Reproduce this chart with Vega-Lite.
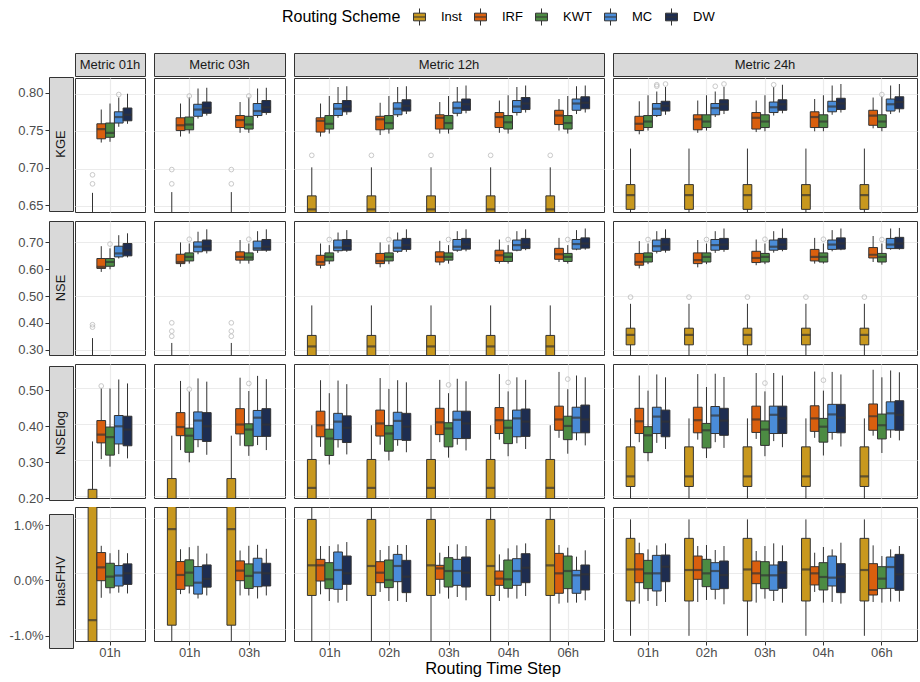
{
"$schema": "https://vega.github.io/schema/vega-lite/v6.json",
"background": "white",
"padding": {"left": 8, "top": 7, "right": 0, "bottom": 0},
"config": {"font": "Liberation Sans", "view": {"stroke": "#333333"}, "title": {"font": "Liberation Sans"}},
"title": {"text": "Routing Time Step", "orient": "bottom", "anchor": "middle", "fontSize": 16.5, "fontWeight": "normal", "color": "#000000", "dx": 30, "offset": 1},
"datasets": {"B": [
{"c":"01h","r":"KGE","t":"01h","s":"Inst","lo":0.55,"q1":0.59,"md":0.61,"q3":0.63,"hi":0.668},
{"c":"01h","r":"KGE","t":"01h","s":"IRF","lo":0.735,"q1":0.74,"md":0.753,"q3":0.76,"hi":0.779},
{"c":"01h","r":"KGE","t":"01h","s":"KWT","lo":0.736,"q1":0.742,"md":0.748,"q3":0.761,"hi":0.787},
{"c":"01h","r":"KGE","t":"01h","s":"MC","lo":0.756,"q1":0.761,"md":0.769,"q3":0.776,"hi":0.795},
{"c":"01h","r":"KGE","t":"01h","s":"DW","lo":0.76,"q1":0.764,"md":0.772,"q3":0.781,"hi":0.8},
{"c":"01h","r":"KGE","t":"01h","s":"Inst","v":0.692},
{"c":"01h","r":"KGE","t":"01h","s":"Inst","v":0.68},
{"c":"01h","r":"KGE","t":"01h","s":"MC","v":0.799},
{"c":"03h","r":"KGE","t":"01h","s":"Inst","lo":0.55,"q1":0.59,"md":0.61,"q3":0.63,"hi":0.669},
{"c":"03h","r":"KGE","t":"01h","s":"IRF","lo":0.743,"q1":0.751,"md":0.758,"q3":0.768,"hi":0.787},
{"c":"03h","r":"KGE","t":"01h","s":"KWT","lo":0.747,"q1":0.752,"md":0.759,"q3":0.769,"hi":0.795},
{"c":"03h","r":"KGE","t":"01h","s":"MC","lo":0.767,"q1":0.77,"md":0.779,"q3":0.786,"hi":0.807},
{"c":"03h","r":"KGE","t":"01h","s":"DW","lo":0.771,"q1":0.774,"md":0.781,"q3":0.789,"hi":0.808},
{"c":"03h","r":"KGE","t":"01h","s":"Inst","v":0.699},
{"c":"03h","r":"KGE","t":"01h","s":"Inst","v":0.68},
{"c":"03h","r":"KGE","t":"01h","s":"KWT","v":0.797},
{"c":"03h","r":"KGE","t":"03h","s":"Inst","lo":0.55,"q1":0.59,"md":0.61,"q3":0.63,"hi":0.669},
{"c":"03h","r":"KGE","t":"03h","s":"IRF","lo":0.748,"q1":0.755,"md":0.765,"q3":0.771,"hi":0.789},
{"c":"03h","r":"KGE","t":"03h","s":"KWT","lo":0.748,"q1":0.753,"md":0.759,"q3":0.77,"hi":0.795},
{"c":"03h","r":"KGE","t":"03h","s":"MC","lo":0.768,"q1":0.771,"md":0.777,"q3":0.787,"hi":0.807},
{"c":"03h","r":"KGE","t":"03h","s":"DW","lo":0.772,"q1":0.775,"md":0.782,"q3":0.791,"hi":0.808},
{"c":"03h","r":"KGE","t":"03h","s":"Inst","v":0.699},
{"c":"03h","r":"KGE","t":"03h","s":"Inst","v":0.68},
{"c":"03h","r":"KGE","t":"03h","s":"KWT","v":0.797},
{"c":"12h","r":"KGE","t":"01h","s":"Inst","lo":0.58,"q1":0.625,"md":0.646,"q3":0.664,"hi":0.702},
{"c":"12h","r":"KGE","t":"01h","s":"IRF","lo":0.743,"q1":0.749,"md":0.764,"q3":0.768,"hi":0.787},
{"c":"12h","r":"KGE","t":"01h","s":"KWT","lo":0.747,"q1":0.753,"md":0.76,"q3":0.771,"hi":0.797},
{"c":"12h","r":"KGE","t":"01h","s":"MC","lo":0.768,"q1":0.771,"md":0.78,"q3":0.787,"hi":0.809},
{"c":"12h","r":"KGE","t":"01h","s":"DW","lo":0.772,"q1":0.776,"md":0.783,"q3":0.791,"hi":0.81},
{"c":"12h","r":"KGE","t":"01h","s":"Inst","v":0.718},
{"c":"12h","r":"KGE","t":"02h","s":"Inst","lo":0.58,"q1":0.625,"md":0.646,"q3":0.664,"hi":0.702},
{"c":"12h","r":"KGE","t":"02h","s":"IRF","lo":0.745,"q1":0.752,"md":0.766,"q3":0.77,"hi":0.788},
{"c":"12h","r":"KGE","t":"02h","s":"KWT","lo":0.747,"q1":0.753,"md":0.761,"q3":0.771,"hi":0.797},
{"c":"12h","r":"KGE","t":"02h","s":"MC","lo":0.769,"q1":0.772,"md":0.78,"q3":0.788,"hi":0.809},
{"c":"12h","r":"KGE","t":"02h","s":"DW","lo":0.773,"q1":0.777,"md":0.784,"q3":0.792,"hi":0.81},
{"c":"12h","r":"KGE","t":"02h","s":"Inst","v":0.718},
{"c":"12h","r":"KGE","t":"03h","s":"Inst","lo":0.58,"q1":0.625,"md":0.646,"q3":0.664,"hi":0.702},
{"c":"12h","r":"KGE","t":"03h","s":"IRF","lo":0.747,"q1":0.753,"md":0.768,"q3":0.772,"hi":0.789},
{"c":"12h","r":"KGE","t":"03h","s":"KWT","lo":0.747,"q1":0.753,"md":0.761,"q3":0.771,"hi":0.797},
{"c":"12h","r":"KGE","t":"03h","s":"MC","lo":0.77,"q1":0.774,"md":0.781,"q3":0.789,"hi":0.809},
{"c":"12h","r":"KGE","t":"03h","s":"DW","lo":0.774,"q1":0.778,"md":0.786,"q3":0.793,"hi":0.811},
{"c":"12h","r":"KGE","t":"03h","s":"Inst","v":0.718},
{"c":"12h","r":"KGE","t":"04h","s":"Inst","lo":0.58,"q1":0.625,"md":0.646,"q3":0.664,"hi":0.702},
{"c":"12h","r":"KGE","t":"04h","s":"IRF","lo":0.748,"q1":0.755,"md":0.769,"q3":0.775,"hi":0.791},
{"c":"12h","r":"KGE","t":"04h","s":"KWT","lo":0.747,"q1":0.753,"md":0.762,"q3":0.771,"hi":0.798},
{"c":"12h","r":"KGE","t":"04h","s":"MC","lo":0.771,"q1":0.775,"md":0.783,"q3":0.791,"hi":0.809},
{"c":"12h","r":"KGE","t":"04h","s":"DW","lo":0.775,"q1":0.779,"md":0.787,"q3":0.795,"hi":0.811},
{"c":"12h","r":"KGE","t":"04h","s":"Inst","v":0.718},
{"c":"12h","r":"KGE","t":"06h","s":"Inst","lo":0.58,"q1":0.625,"md":0.646,"q3":0.664,"hi":0.702},
{"c":"12h","r":"KGE","t":"06h","s":"IRF","lo":0.751,"q1":0.759,"md":0.771,"q3":0.778,"hi":0.793},
{"c":"12h","r":"KGE","t":"06h","s":"KWT","lo":0.747,"q1":0.753,"md":0.761,"q3":0.771,"hi":0.797},
{"c":"12h","r":"KGE","t":"06h","s":"MC","lo":0.773,"q1":0.778,"md":0.787,"q3":0.793,"hi":0.81},
{"c":"12h","r":"KGE","t":"06h","s":"DW","lo":0.775,"q1":0.78,"md":0.788,"q3":0.796,"hi":0.811},
{"c":"12h","r":"KGE","t":"06h","s":"Inst","v":0.718},
{"c":"24h","r":"KGE","t":"01h","s":"Inst","lo":0.6,"q1":0.646,"md":0.665,"q3":0.679,"hi":0.727},
{"c":"24h","r":"KGE","t":"01h","s":"IRF","lo":0.746,"q1":0.751,"md":0.76,"q3":0.77,"hi":0.79},
{"c":"24h","r":"KGE","t":"01h","s":"KWT","lo":0.751,"q1":0.755,"md":0.763,"q3":0.771,"hi":0.798},
{"c":"24h","r":"KGE","t":"01h","s":"MC","lo":0.769,"q1":0.771,"md":0.78,"q3":0.787,"hi":0.803},
{"c":"24h","r":"KGE","t":"01h","s":"DW","lo":0.772,"q1":0.777,"md":0.784,"q3":0.79,"hi":0.809},
{"c":"24h","r":"KGE","t":"01h","s":"MC","v":0.81},
{"c":"24h","r":"KGE","t":"01h","s":"MC","v":0.812},
{"c":"24h","r":"KGE","t":"01h","s":"DW","v":0.813},
{"c":"24h","r":"KGE","t":"02h","s":"Inst","lo":0.6,"q1":0.646,"md":0.665,"q3":0.679,"hi":0.727},
{"c":"24h","r":"KGE","t":"02h","s":"IRF","lo":0.748,"q1":0.752,"md":0.766,"q3":0.772,"hi":0.791},
{"c":"24h","r":"KGE","t":"02h","s":"KWT","lo":0.751,"q1":0.755,"md":0.763,"q3":0.772,"hi":0.798},
{"c":"24h","r":"KGE","t":"02h","s":"MC","lo":0.769,"q1":0.772,"md":0.781,"q3":0.787,"hi":0.803},
{"c":"24h","r":"KGE","t":"02h","s":"DW","lo":0.773,"q1":0.778,"md":0.786,"q3":0.792,"hi":0.809},
{"c":"24h","r":"KGE","t":"02h","s":"MC","v":0.81},
{"c":"24h","r":"KGE","t":"02h","s":"DW","v":0.813},
{"c":"24h","r":"KGE","t":"03h","s":"Inst","lo":0.6,"q1":0.646,"md":0.665,"q3":0.679,"hi":0.727},
{"c":"24h","r":"KGE","t":"03h","s":"IRF","lo":0.749,"q1":0.753,"md":0.768,"q3":0.775,"hi":0.791},
{"c":"24h","r":"KGE","t":"03h","s":"KWT","lo":0.75,"q1":0.755,"md":0.763,"q3":0.772,"hi":0.798},
{"c":"24h","r":"KGE","t":"03h","s":"MC","lo":0.771,"q1":0.775,"md":0.782,"q3":0.789,"hi":0.809},
{"c":"24h","r":"KGE","t":"03h","s":"DW","lo":0.774,"q1":0.778,"md":0.786,"q3":0.792,"hi":0.812},
{"c":"24h","r":"KGE","t":"03h","s":"MC","v":0.812},
{"c":"24h","r":"KGE","t":"04h","s":"Inst","lo":0.6,"q1":0.646,"md":0.665,"q3":0.679,"hi":0.727},
{"c":"24h","r":"KGE","t":"04h","s":"IRF","lo":0.75,"q1":0.755,"md":0.769,"q3":0.776,"hi":0.793},
{"c":"24h","r":"KGE","t":"04h","s":"KWT","lo":0.75,"q1":0.755,"md":0.763,"q3":0.772,"hi":0.798},
{"c":"24h","r":"KGE","t":"04h","s":"MC","lo":0.772,"q1":0.776,"md":0.783,"q3":0.79,"hi":0.811},
{"c":"24h","r":"KGE","t":"04h","s":"DW","lo":0.775,"q1":0.779,"md":0.787,"q3":0.794,"hi":0.813},
{"c":"24h","r":"KGE","t":"06h","s":"Inst","lo":0.6,"q1":0.646,"md":0.665,"q3":0.679,"hi":0.727},
{"c":"24h","r":"KGE","t":"06h","s":"IRF","lo":0.754,"q1":0.758,"md":0.771,"q3":0.778,"hi":0.795},
{"c":"24h","r":"KGE","t":"06h","s":"KWT","lo":0.75,"q1":0.755,"md":0.763,"q3":0.772,"hi":0.796},
{"c":"24h","r":"KGE","t":"06h","s":"MC","lo":0.773,"q1":0.777,"md":0.786,"q3":0.793,"hi":0.811},
{"c":"24h","r":"KGE","t":"06h","s":"DW","lo":0.775,"q1":0.78,"md":0.789,"q3":0.796,"hi":0.813},
{"c":"24h","r":"KGE","t":"06h","s":"KWT","v":0.799},
{"c":"01h","r":"NSE","t":"01h","s":"Inst","lo":0.15,"q1":0.2,"md":0.22,"q3":0.25,"hi":0.343},
{"c":"01h","r":"NSE","t":"01h","s":"IRF","lo":0.59,"q1":0.603,"md":0.609,"q3":0.64,"hi":0.686},
{"c":"01h","r":"NSE","t":"01h","s":"KWT","lo":0.6,"q1":0.611,"md":0.627,"q3":0.64,"hi":0.678},
{"c":"01h","r":"NSE","t":"01h","s":"MC","lo":0.64,"q1":0.646,"md":0.659,"q3":0.686,"hi":0.727},
{"c":"01h","r":"NSE","t":"01h","s":"DW","lo":0.644,"q1":0.65,"md":0.671,"q3":0.696,"hi":0.734},
{"c":"01h","r":"NSE","t":"01h","s":"Inst","v":0.393},
{"c":"01h","r":"NSE","t":"01h","s":"Inst","v":0.384},
{"c":"01h","r":"NSE","t":"01h","s":"KWT","v":0.694},
{"c":"03h","r":"NSE","t":"01h","s":"Inst","lo":0.15,"q1":0.2,"md":0.22,"q3":0.25,"hi":0.325},
{"c":"03h","r":"NSE","t":"01h","s":"IRF","lo":0.609,"q1":0.621,"md":0.627,"q3":0.656,"hi":0.7},
{"c":"03h","r":"NSE","t":"01h","s":"KWT","lo":0.621,"q1":0.631,"md":0.646,"q3":0.661,"hi":0.696},
{"c":"03h","r":"NSE","t":"01h","s":"MC","lo":0.656,"q1":0.665,"md":0.684,"q3":0.702,"hi":0.74},
{"c":"03h","r":"NSE","t":"01h","s":"DW","lo":0.659,"q1":0.669,"md":0.686,"q3":0.709,"hi":0.749},
{"c":"03h","r":"NSE","t":"01h","s":"Inst","v":0.4},
{"c":"03h","r":"NSE","t":"01h","s":"Inst","v":0.369},
{"c":"03h","r":"NSE","t":"01h","s":"Inst","v":0.35},
{"c":"03h","r":"NSE","t":"01h","s":"KWT","v":0.712},
{"c":"03h","r":"NSE","t":"03h","s":"Inst","lo":0.15,"q1":0.2,"md":0.22,"q3":0.25,"hi":0.325},
{"c":"03h","r":"NSE","t":"03h","s":"IRF","lo":0.621,"q1":0.634,"md":0.646,"q3":0.665,"hi":0.709},
{"c":"03h","r":"NSE","t":"03h","s":"KWT","lo":0.621,"q1":0.634,"md":0.644,"q3":0.661,"hi":0.696},
{"c":"03h","r":"NSE","t":"03h","s":"MC","lo":0.661,"q1":0.671,"md":0.678,"q3":0.705,"hi":0.742},
{"c":"03h","r":"NSE","t":"03h","s":"DW","lo":0.665,"q1":0.671,"md":0.684,"q3":0.711,"hi":0.749},
{"c":"03h","r":"NSE","t":"03h","s":"Inst","v":0.4},
{"c":"03h","r":"NSE","t":"03h","s":"Inst","v":0.369},
{"c":"03h","r":"NSE","t":"03h","s":"Inst","v":0.35},
{"c":"03h","r":"NSE","t":"03h","s":"KWT","v":0.712},
{"c":"12h","r":"NSE","t":"01h","s":"Inst","lo":0.18,"q1":0.26,"md":0.312,"q3":0.353,"hi":0.465},
{"c":"12h","r":"NSE","t":"01h","s":"IRF","lo":0.603,"q1":0.615,"md":0.627,"q3":0.652,"hi":0.696},
{"c":"12h","r":"NSE","t":"01h","s":"KWT","lo":0.619,"q1":0.631,"md":0.646,"q3":0.661,"hi":0.69},
{"c":"12h","r":"NSE","t":"01h","s":"MC","lo":0.661,"q1":0.669,"md":0.681,"q3":0.709,"hi":0.737},
{"c":"12h","r":"NSE","t":"01h","s":"DW","lo":0.665,"q1":0.671,"md":0.687,"q3":0.711,"hi":0.746},
{"c":"12h","r":"NSE","t":"01h","s":"KWT","v":0.711},
{"c":"12h","r":"NSE","t":"02h","s":"Inst","lo":0.18,"q1":0.26,"md":0.312,"q3":0.353,"hi":0.465},
{"c":"12h","r":"NSE","t":"02h","s":"IRF","lo":0.607,"q1":0.621,"md":0.631,"q3":0.659,"hi":0.7},
{"c":"12h","r":"NSE","t":"02h","s":"KWT","lo":0.619,"q1":0.631,"md":0.646,"q3":0.661,"hi":0.692},
{"c":"12h","r":"NSE","t":"02h","s":"MC","lo":0.661,"q1":0.667,"md":0.68,"q3":0.709,"hi":0.737},
{"c":"12h","r":"NSE","t":"02h","s":"DW","lo":0.665,"q1":0.674,"md":0.69,"q3":0.715,"hi":0.749},
{"c":"12h","r":"NSE","t":"02h","s":"KWT","v":0.711},
{"c":"12h","r":"NSE","t":"03h","s":"Inst","lo":0.18,"q1":0.26,"md":0.312,"q3":0.353,"hi":0.465},
{"c":"12h","r":"NSE","t":"03h","s":"IRF","lo":0.615,"q1":0.627,"md":0.646,"q3":0.665,"hi":0.706},
{"c":"12h","r":"NSE","t":"03h","s":"KWT","lo":0.621,"q1":0.634,"md":0.646,"q3":0.661,"hi":0.69},
{"c":"12h","r":"NSE","t":"03h","s":"MC","lo":0.665,"q1":0.671,"md":0.684,"q3":0.711,"hi":0.742},
{"c":"12h","r":"NSE","t":"03h","s":"DW","lo":0.667,"q1":0.675,"md":0.692,"q3":0.715,"hi":0.749},
{"c":"12h","r":"NSE","t":"03h","s":"KWT","v":0.711},
{"c":"12h","r":"NSE","t":"04h","s":"Inst","lo":0.18,"q1":0.26,"md":0.312,"q3":0.353,"hi":0.465},
{"c":"12h","r":"NSE","t":"04h","s":"IRF","lo":0.621,"q1":0.629,"md":0.652,"q3":0.671,"hi":0.711},
{"c":"12h","r":"NSE","t":"04h","s":"KWT","lo":0.621,"q1":0.629,"md":0.646,"q3":0.661,"hi":0.69},
{"c":"12h","r":"NSE","t":"04h","s":"MC","lo":0.667,"q1":0.671,"md":0.69,"q3":0.709,"hi":0.742},
{"c":"12h","r":"NSE","t":"04h","s":"DW","lo":0.671,"q1":0.677,"md":0.692,"q3":0.715,"hi":0.749},
{"c":"12h","r":"NSE","t":"04h","s":"KWT","v":0.711},
{"c":"12h","r":"NSE","t":"06h","s":"Inst","lo":0.18,"q1":0.26,"md":0.312,"q3":0.353,"hi":0.465},
{"c":"12h","r":"NSE","t":"06h","s":"IRF","lo":0.627,"q1":0.637,"md":0.656,"q3":0.678,"hi":0.717},
{"c":"12h","r":"NSE","t":"06h","s":"KWT","lo":0.621,"q1":0.629,"md":0.646,"q3":0.659,"hi":0.69},
{"c":"12h","r":"NSE","t":"06h","s":"MC","lo":0.671,"q1":0.675,"md":0.694,"q3":0.711,"hi":0.746},
{"c":"12h","r":"NSE","t":"06h","s":"DW","lo":0.673,"q1":0.679,"md":0.696,"q3":0.717,"hi":0.752},
{"c":"12h","r":"NSE","t":"06h","s":"KWT","v":0.711},
{"c":"24h","r":"NSE","t":"01h","s":"Inst","lo":0.25,"q1":0.318,"md":0.355,"q3":0.38,"hi":0.471},
{"c":"24h","r":"NSE","t":"01h","s":"IRF","lo":0.603,"q1":0.615,"md":0.627,"q3":0.659,"hi":0.705},
{"c":"24h","r":"NSE","t":"01h","s":"KWT","lo":0.619,"q1":0.627,"md":0.646,"q3":0.661,"hi":0.696},
{"c":"24h","r":"NSE","t":"01h","s":"MC","lo":0.659,"q1":0.667,"md":0.686,"q3":0.709,"hi":0.742},
{"c":"24h","r":"NSE","t":"01h","s":"DW","lo":0.662,"q1":0.671,"md":0.692,"q3":0.715,"hi":0.749},
{"c":"24h","r":"NSE","t":"01h","s":"Inst","v":0.496},
{"c":"24h","r":"NSE","t":"01h","s":"KWT","v":0.711},
{"c":"24h","r":"NSE","t":"02h","s":"Inst","lo":0.25,"q1":0.318,"md":0.355,"q3":0.38,"hi":0.471},
{"c":"24h","r":"NSE","t":"02h","s":"IRF","lo":0.607,"q1":0.621,"md":0.634,"q3":0.661,"hi":0.709},
{"c":"24h","r":"NSE","t":"02h","s":"KWT","lo":0.619,"q1":0.627,"md":0.646,"q3":0.661,"hi":0.696},
{"c":"24h","r":"NSE","t":"02h","s":"MC","lo":0.661,"q1":0.671,"md":0.69,"q3":0.711,"hi":0.742},
{"c":"24h","r":"NSE","t":"02h","s":"DW","lo":0.665,"q1":0.674,"md":0.692,"q3":0.715,"hi":0.752},
{"c":"24h","r":"NSE","t":"02h","s":"Inst","v":0.496},
{"c":"24h","r":"NSE","t":"02h","s":"KWT","v":0.711},
{"c":"24h","r":"NSE","t":"03h","s":"Inst","lo":0.25,"q1":0.318,"md":0.355,"q3":0.38,"hi":0.471},
{"c":"24h","r":"NSE","t":"03h","s":"IRF","lo":0.615,"q1":0.625,"md":0.642,"q3":0.667,"hi":0.711},
{"c":"24h","r":"NSE","t":"03h","s":"KWT","lo":0.619,"q1":0.627,"md":0.646,"q3":0.659,"hi":0.696},
{"c":"24h","r":"NSE","t":"03h","s":"MC","lo":0.662,"q1":0.671,"md":0.684,"q3":0.709,"hi":0.742},
{"c":"24h","r":"NSE","t":"03h","s":"DW","lo":0.667,"q1":0.674,"md":0.692,"q3":0.715,"hi":0.752},
{"c":"24h","r":"NSE","t":"03h","s":"Inst","v":0.496},
{"c":"24h","r":"NSE","t":"03h","s":"KWT","v":0.712},
{"c":"24h","r":"NSE","t":"04h","s":"Inst","lo":0.25,"q1":0.318,"md":0.355,"q3":0.38,"hi":0.471},
{"c":"24h","r":"NSE","t":"04h","s":"IRF","lo":0.621,"q1":0.631,"md":0.646,"q3":0.674,"hi":0.717},
{"c":"24h","r":"NSE","t":"04h","s":"KWT","lo":0.621,"q1":0.627,"md":0.646,"q3":0.661,"hi":0.696},
{"c":"24h","r":"NSE","t":"04h","s":"MC","lo":0.667,"q1":0.674,"md":0.692,"q3":0.709,"hi":0.746},
{"c":"24h","r":"NSE","t":"04h","s":"DW","lo":0.671,"q1":0.675,"md":0.696,"q3":0.717,"hi":0.752},
{"c":"24h","r":"NSE","t":"04h","s":"Inst","v":0.496},
{"c":"24h","r":"NSE","t":"04h","s":"KWT","v":0.712},
{"c":"24h","r":"NSE","t":"06h","s":"Inst","lo":0.25,"q1":0.318,"md":0.355,"q3":0.38,"hi":0.471},
{"c":"24h","r":"NSE","t":"06h","s":"IRF","lo":0.627,"q1":0.642,"md":0.654,"q3":0.681,"hi":0.724},
{"c":"24h","r":"NSE","t":"06h","s":"KWT","lo":0.617,"q1":0.627,"md":0.646,"q3":0.659,"hi":0.696},
{"c":"24h","r":"NSE","t":"06h","s":"MC","lo":0.673,"q1":0.677,"md":0.692,"q3":0.715,"hi":0.752},
{"c":"24h","r":"NSE","t":"06h","s":"DW","lo":0.673,"q1":0.677,"md":0.696,"q3":0.719,"hi":0.754},
{"c":"24h","r":"NSE","t":"06h","s":"Inst","v":0.496},
{"c":"24h","r":"NSE","t":"06h","s":"KWT","v":0.711},
{"c":"01h","r":"NSElog","t":"01h","s":"Inst","lo":0.05,"q1":0.12,"md":0.17,"q3":0.219,"hi":0.352},
{"c":"01h","r":"NSElog","t":"01h","s":"IRF","lo":0.303,"q1":0.348,"md":0.371,"q3":0.41,"hi":0.499},
{"c":"01h","r":"NSElog","t":"01h","s":"KWT","lo":0.282,"q1":0.314,"md":0.364,"q3":0.392,"hi":0.499},
{"c":"01h","r":"NSElog","t":"01h","s":"MC","lo":0.317,"q1":0.345,"md":0.394,"q3":0.424,"hi":0.524},
{"c":"01h","r":"NSElog","t":"01h","s":"DW","lo":0.305,"q1":0.34,"md":0.385,"q3":0.422,"hi":0.513},
{"c":"01h","r":"NSElog","t":"01h","s":"IRF","v":0.506},
{"c":"03h","r":"NSElog","t":"01h","s":"Inst","lo":0.05,"q1":0.13,"md":0.18,"q3":0.249,"hi":0.368},
{"c":"03h","r":"NSElog","t":"01h","s":"IRF","lo":0.328,"q1":0.368,"md":0.392,"q3":0.432,"hi":0.52},
{"c":"03h","r":"NSElog","t":"01h","s":"KWT","lo":0.294,"q1":0.322,"md":0.368,"q3":0.389,"hi":0.49},
{"c":"03h","r":"NSElog","t":"01h","s":"MC","lo":0.336,"q1":0.357,"md":0.41,"q3":0.434,"hi":0.527},
{"c":"03h","r":"NSElog","t":"01h","s":"DW","lo":0.315,"q1":0.352,"md":0.394,"q3":0.432,"hi":0.518},
{"c":"03h","r":"NSElog","t":"01h","s":"KWT","v":0.497},
{"c":"03h","r":"NSElog","t":"03h","s":"Inst","lo":0.05,"q1":0.13,"md":0.18,"q3":0.249,"hi":0.368},
{"c":"03h","r":"NSElog","t":"03h","s":"IRF","lo":0.34,"q1":0.373,"md":0.399,"q3":0.443,"hi":0.529},
{"c":"03h","r":"NSElog","t":"03h","s":"KWT","lo":0.312,"q1":0.34,"md":0.385,"q3":0.401,"hi":0.492},
{"c":"03h","r":"NSElog","t":"03h","s":"MC","lo":0.342,"q1":0.366,"md":0.418,"q3":0.438,"hi":0.534},
{"c":"03h","r":"NSElog","t":"03h","s":"DW","lo":0.328,"q1":0.366,"md":0.399,"q3":0.443,"hi":0.525},
{"c":"03h","r":"NSElog","t":"03h","s":"KWT","v":0.513},
{"c":"12h","r":"NSElog","t":"01h","s":"Inst","lo":0.08,"q1":0.17,"md":0.223,"q3":0.302,"hi":0.397},
{"c":"12h","r":"NSElog","t":"01h","s":"IRF","lo":0.337,"q1":0.365,"md":0.397,"q3":0.436,"hi":0.522},
{"c":"12h","r":"NSElog","t":"01h","s":"KWT","lo":0.288,"q1":0.313,"md":0.36,"q3":0.386,"hi":0.486},
{"c":"12h","r":"NSElog","t":"01h","s":"MC","lo":0.335,"q1":0.357,"md":0.407,"q3":0.43,"hi":0.521},
{"c":"12h","r":"NSElog","t":"01h","s":"DW","lo":0.316,"q1":0.349,"md":0.39,"q3":0.423,"hi":0.511},
{"c":"12h","r":"NSElog","t":"02h","s":"Inst","lo":0.08,"q1":0.17,"md":0.223,"q3":0.302,"hi":0.397},
{"c":"12h","r":"NSElog","t":"02h","s":"IRF","lo":0.343,"q1":0.367,"md":0.402,"q3":0.439,"hi":0.528},
{"c":"12h","r":"NSElog","t":"02h","s":"KWT","lo":0.299,"q1":0.325,"md":0.374,"q3":0.396,"hi":0.498},
{"c":"12h","r":"NSElog","t":"02h","s":"MC","lo":0.34,"q1":0.357,"md":0.409,"q3":0.433,"hi":0.522},
{"c":"12h","r":"NSElog","t":"02h","s":"DW","lo":0.322,"q1":0.355,"md":0.393,"q3":0.43,"hi":0.516},
{"c":"12h","r":"NSElog","t":"03h","s":"Inst","lo":0.08,"q1":0.17,"md":0.223,"q3":0.302,"hi":0.397},
{"c":"12h","r":"NSElog","t":"03h","s":"IRF","lo":0.35,"q1":0.371,"md":0.405,"q3":0.444,"hi":0.523},
{"c":"12h","r":"NSElog","t":"03h","s":"KWT","lo":0.307,"q1":0.337,"md":0.388,"q3":0.404,"hi":0.486},
{"c":"12h","r":"NSElog","t":"03h","s":"MC","lo":0.343,"q1":0.36,"md":0.412,"q3":0.436,"hi":0.526},
{"c":"12h","r":"NSElog","t":"03h","s":"DW","lo":0.327,"q1":0.36,"md":0.402,"q3":0.436,"hi":0.519},
{"c":"12h","r":"NSElog","t":"03h","s":"KWT","v":0.509},
{"c":"12h","r":"NSElog","t":"04h","s":"Inst","lo":0.08,"q1":0.17,"md":0.223,"q3":0.302,"hi":0.397},
{"c":"12h","r":"NSElog","t":"04h","s":"IRF","lo":0.357,"q1":0.374,"md":0.411,"q3":0.446,"hi":0.539},
{"c":"12h","r":"NSElog","t":"04h","s":"KWT","lo":0.311,"q1":0.346,"md":0.39,"q3":0.411,"hi":0.491},
{"c":"12h","r":"NSElog","t":"04h","s":"MC","lo":0.347,"q1":0.365,"md":0.416,"q3":0.439,"hi":0.53},
{"c":"12h","r":"NSElog","t":"04h","s":"DW","lo":0.331,"q1":0.366,"md":0.407,"q3":0.442,"hi":0.523},
{"c":"12h","r":"NSElog","t":"04h","s":"KWT","v":0.516},
{"c":"12h","r":"NSElog","t":"06h","s":"Inst","lo":0.08,"q1":0.17,"md":0.223,"q3":0.302,"hi":0.397},
{"c":"12h","r":"NSElog","t":"06h","s":"IRF","lo":0.362,"q1":0.383,"md":0.413,"q3":0.45,"hi":0.545},
{"c":"12h","r":"NSElog","t":"06h","s":"KWT","lo":0.318,"q1":0.357,"md":0.395,"q3":0.422,"hi":0.497},
{"c":"12h","r":"NSElog","t":"06h","s":"MC","lo":0.355,"q1":0.376,"md":0.418,"q3":0.447,"hi":0.535},
{"c":"12h","r":"NSElog","t":"06h","s":"DW","lo":0.341,"q1":0.376,"md":0.413,"q3":0.453,"hi":0.53},
{"c":"12h","r":"NSElog","t":"06h","s":"KWT","v":0.525},
{"c":"24h","r":"NSElog","t":"01h","s":"Inst","lo":0.15,"q1":0.227,"md":0.255,"q3":0.337,"hi":0.416},
{"c":"24h","r":"NSElog","t":"01h","s":"IRF","lo":0.35,"q1":0.374,"md":0.408,"q3":0.444,"hi":0.535},
{"c":"24h","r":"NSElog","t":"01h","s":"KWT","lo":0.297,"q1":0.321,"md":0.369,"q3":0.393,"hi":0.493},
{"c":"24h","r":"NSElog","t":"01h","s":"MC","lo":0.348,"q1":0.374,"md":0.421,"q3":0.447,"hi":0.538},
{"c":"24h","r":"NSElog","t":"01h","s":"DW","lo":0.331,"q1":0.365,"md":0.407,"q3":0.439,"hi":0.53},
{"c":"24h","r":"NSElog","t":"02h","s":"Inst","lo":0.15,"q1":0.227,"md":0.255,"q3":0.337,"hi":0.416},
{"c":"24h","r":"NSElog","t":"02h","s":"IRF","lo":0.357,"q1":0.376,"md":0.411,"q3":0.447,"hi":0.539},
{"c":"24h","r":"NSElog","t":"02h","s":"KWT","lo":0.306,"q1":0.334,"md":0.383,"q3":0.402,"hi":0.503},
{"c":"24h","r":"NSElog","t":"02h","s":"MC","lo":0.35,"q1":0.374,"md":0.424,"q3":0.449,"hi":0.54},
{"c":"24h","r":"NSElog","t":"02h","s":"DW","lo":0.334,"q1":0.369,"md":0.41,"q3":0.444,"hi":0.531},
{"c":"24h","r":"NSElog","t":"03h","s":"Inst","lo":0.15,"q1":0.227,"md":0.255,"q3":0.337,"hi":0.416},
{"c":"24h","r":"NSElog","t":"03h","s":"IRF","lo":0.359,"q1":0.377,"md":0.413,"q3":0.45,"hi":0.542},
{"c":"24h","r":"NSElog","t":"03h","s":"KWT","lo":0.311,"q1":0.341,"md":0.385,"q3":0.409,"hi":0.491},
{"c":"24h","r":"NSElog","t":"03h","s":"MC","lo":0.353,"q1":0.374,"md":0.426,"q3":0.45,"hi":0.542},
{"c":"24h","r":"NSElog","t":"03h","s":"DW","lo":0.336,"q1":0.374,"md":0.416,"q3":0.45,"hi":0.535},
{"c":"24h","r":"NSElog","t":"03h","s":"KWT","v":0.514},
{"c":"24h","r":"NSElog","t":"04h","s":"Inst","lo":0.15,"q1":0.227,"md":0.255,"q3":0.337,"hi":0.416},
{"c":"24h","r":"NSElog","t":"04h","s":"IRF","lo":0.362,"q1":0.38,"md":0.416,"q3":0.451,"hi":0.546},
{"c":"24h","r":"NSElog","t":"04h","s":"KWT","lo":0.313,"q1":0.35,"md":0.393,"q3":0.416,"hi":0.493},
{"c":"24h","r":"NSElog","t":"04h","s":"MC","lo":0.357,"q1":0.377,"md":0.427,"q3":0.455,"hi":0.545},
{"c":"24h","r":"NSElog","t":"04h","s":"DW","lo":0.338,"q1":0.376,"md":0.418,"q3":0.455,"hi":0.538},
{"c":"24h","r":"NSElog","t":"04h","s":"KWT","v":0.522},
{"c":"24h","r":"NSElog","t":"06h","s":"Inst","lo":0.15,"q1":0.227,"md":0.255,"q3":0.337,"hi":0.416},
{"c":"24h","r":"NSElog","t":"06h","s":"IRF","lo":0.368,"q1":0.383,"md":0.422,"q3":0.456,"hi":0.551},
{"c":"24h","r":"NSElog","t":"06h","s":"KWT","lo":0.32,"q1":0.359,"md":0.397,"q3":0.428,"hi":0.53},
{"c":"24h","r":"NSElog","t":"06h","s":"MC","lo":0.362,"q1":0.384,"md":0.43,"q3":0.462,"hi":0.549},
{"c":"24h","r":"NSElog","t":"06h","s":"DW","lo":0.355,"q1":0.383,"md":0.426,"q3":0.465,"hi":0.544},
{"c":"01h","r":"biasFHV","t":"01h","s":"Inst","lo":-4,"q1":-1.6,"md":-0.847,"q3":1.8,"hi":4},
{"c":"01h","r":"biasFHV","t":"01h","s":"IRF","lo":-0.442,"q1":-0.133,"md":0.109,"q3":0.376,"hi":0.498},
{"c":"01h","r":"biasFHV","t":"01h","s":"KWT","lo":-0.364,"q1":-0.26,"md":-0.06,"q3":0.182,"hi":0.364},
{"c":"01h","r":"biasFHV","t":"01h","s":"MC","lo":-0.35,"q1":-0.229,"md":-0.04,"q3":0.14,"hi":0.425},
{"c":"01h","r":"biasFHV","t":"01h","s":"DW","lo":-0.364,"q1":-0.2,"md":0.0,"q3":0.171,"hi":0.364},
{"c":"03h","r":"biasFHV","t":"01h","s":"Inst","lo":-3,"q1":-0.938,"md":0.8,"q3":1.6,"hi":4},
{"c":"03h","r":"biasFHV","t":"01h","s":"IRF","lo":-0.376,"q1":-0.29,"md":-0.029,"q3":0.213,"hi":0.436},
{"c":"03h","r":"biasFHV","t":"01h","s":"KWT","lo":-0.364,"q1":-0.229,"md":0.013,"q3":0.244,"hi":0.473},
{"c":"03h","r":"biasFHV","t":"01h","s":"MC","lo":-0.455,"q1":-0.375,"md":-0.169,"q3":0.122,"hi":0.498},
{"c":"03h","r":"biasFHV","t":"01h","s":"DW","lo":-0.4,"q1":-0.25,"md":-0.1,"q3":0.152,"hi":0.358},
{"c":"03h","r":"biasFHV","t":"03h","s":"Inst","lo":-3,"q1":-0.938,"md":0.8,"q3":1.6,"hi":4},
{"c":"03h","r":"biasFHV","t":"03h","s":"IRF","lo":-0.4,"q1":-0.133,"md":0.049,"q3":0.225,"hi":0.413},
{"c":"03h","r":"biasFHV","t":"03h","s":"KWT","lo":-0.4,"q1":-0.273,"md":-0.047,"q3":0.171,"hi":0.498},
{"c":"03h","r":"biasFHV","t":"03h","s":"MC","lo":-0.455,"q1":-0.242,"md":0.013,"q3":0.273,"hi":0.516},
{"c":"03h","r":"biasFHV","t":"03h","s":"DW","lo":-0.4,"q1":-0.229,"md":0.0,"q3":0.182,"hi":0.443},
{"c":"12h","r":"biasFHV","t":"01h","s":"Inst","lo":-2.5,"q1":-0.4,"md":0.145,"q3":0.975,"hi":3},
{"c":"12h","r":"biasFHV","t":"01h","s":"IRF","lo":-0.38,"q1":-0.139,"md":0.145,"q3":0.253,"hi":0.494},
{"c":"12h","r":"biasFHV","t":"01h","s":"KWT","lo":-0.5,"q1":-0.277,"md":-0.108,"q3":0.193,"hi":0.494},
{"c":"12h","r":"biasFHV","t":"01h","s":"MC","lo":-0.53,"q1":-0.289,"md":0.06,"q3":0.386,"hi":0.524},
{"c":"12h","r":"biasFHV","t":"01h","s":"DW","lo":-0.5,"q1":-0.199,"md":0.0,"q3":0.313,"hi":0.566},
{"c":"12h","r":"biasFHV","t":"02h","s":"Inst","lo":-2.5,"q1":-0.4,"md":0.133,"q3":0.975,"hi":3},
{"c":"12h","r":"biasFHV","t":"02h","s":"IRF","lo":-0.337,"q1":-0.169,"md":0.012,"q3":0.211,"hi":0.422},
{"c":"12h","r":"biasFHV","t":"02h","s":"KWT","lo":-0.5,"q1":-0.259,"md":-0.12,"q3":0.241,"hi":0.494},
{"c":"12h","r":"biasFHV","t":"02h","s":"MC","lo":-0.5,"q1":-0.151,"md":0.133,"q3":0.343,"hi":0.512},
{"c":"12h","r":"biasFHV","t":"02h","s":"DW","lo":-0.518,"q1":-0.349,"md":-0.06,"q3":0.235,"hi":0.512},
{"c":"12h","r":"biasFHV","t":"03h","s":"Inst","lo":-2.5,"q1":-0.4,"md":0.145,"q3":0.975,"hi":3},
{"c":"12h","r":"biasFHV","t":"03h","s":"IRF","lo":-0.367,"q1":-0.108,"md":0.09,"q3":0.145,"hi":0.373},
{"c":"12h","r":"biasFHV","t":"03h","s":"KWT","lo":-0.458,"q1":-0.247,"md":0.042,"q3":0.283,"hi":0.494},
{"c":"12h","r":"biasFHV","t":"03h","s":"MC","lo":-0.428,"q1":-0.217,"md":0.042,"q3":0.253,"hi":0.524},
{"c":"12h","r":"biasFHV","t":"03h","s":"DW","lo":-0.488,"q1":-0.247,"md":0.012,"q3":0.295,"hi":0.494},
{"c":"12h","r":"biasFHV","t":"04h","s":"Inst","lo":-2.5,"q1":-0.4,"md":0.133,"q3":0.975,"hi":3},
{"c":"12h","r":"biasFHV","t":"04h","s":"IRF","lo":-0.5,"q1":-0.217,"md":-0.096,"q3":0.042,"hi":0.343},
{"c":"12h","r":"biasFHV","t":"04h","s":"KWT","lo":-0.44,"q1":-0.271,"md":-0.108,"q3":0.241,"hi":0.452},
{"c":"12h","r":"biasFHV","t":"04h","s":"MC","lo":-0.458,"q1":-0.217,"md":0.042,"q3":0.265,"hi":0.506},
{"c":"12h","r":"biasFHV","t":"04h","s":"DW","lo":-0.41,"q1":-0.169,"md":0.102,"q3":0.355,"hi":0.542},
{"c":"12h","r":"biasFHV","t":"06h","s":"Inst","lo":-2.5,"q1":-0.4,"md":0.145,"q3":0.975,"hi":3},
{"c":"12h","r":"biasFHV","t":"06h","s":"IRF","lo":-0.548,"q1":-0.361,"md":0.0,"q3":0.361,"hi":0.512},
{"c":"12h","r":"biasFHV","t":"06h","s":"KWT","lo":-0.53,"q1":-0.277,"md":0.042,"q3":0.313,"hi":0.464},
{"c":"12h","r":"biasFHV","t":"06h","s":"MC","lo":-0.53,"q1":-0.361,"md":-0.036,"q3":0.054,"hi":0.301},
{"c":"12h","r":"biasFHV","t":"06h","s":"DW","lo":-0.488,"q1":-0.301,"md":-0.018,"q3":0.151,"hi":0.416},
{"c":"24h","r":"biasFHV","t":"01h","s":"Inst","lo":-1.13,"q1":-0.5,"md":0.07,"q3":0.633,"hi":0.976},
{"c":"24h","r":"biasFHV","t":"01h","s":"IRF","lo":-0.548,"q1":-0.169,"md":0.072,"q3":0.355,"hi":0.554},
{"c":"24h","r":"biasFHV","t":"01h","s":"KWT","lo":-0.5,"q1":-0.277,"md":0.0,"q3":0.235,"hi":0.434},
{"c":"24h","r":"biasFHV","t":"01h","s":"MC","lo":-0.59,"q1":-0.319,"md":0.0,"q3":0.325,"hi":0.506},
{"c":"24h","r":"biasFHV","t":"01h","s":"DW","lo":-0.518,"q1":-0.151,"md":0.12,"q3":0.331,"hi":0.542},
{"c":"24h","r":"biasFHV","t":"02h","s":"Inst","lo":-1.13,"q1":-0.5,"md":0.06,"q3":0.633,"hi":0.976},
{"c":"24h","r":"biasFHV","t":"02h","s":"IRF","lo":-0.518,"q1":-0.108,"md":0.06,"q3":0.313,"hi":0.494},
{"c":"24h","r":"biasFHV","t":"02h","s":"KWT","lo":-0.482,"q1":-0.241,"md":0.0,"q3":0.253,"hi":0.512},
{"c":"24h","r":"biasFHV","t":"02h","s":"MC","lo":-0.47,"q1":-0.289,"md":0.042,"q3":0.193,"hi":0.422},
{"c":"24h","r":"biasFHV","t":"02h","s":"DW","lo":-0.56,"q1":-0.277,"md":-0.03,"q3":0.223,"hi":0.494},
{"c":"24h","r":"biasFHV","t":"03h","s":"Inst","lo":-1.13,"q1":-0.5,"md":0.07,"q3":0.633,"hi":0.976},
{"c":"24h","r":"biasFHV","t":"03h","s":"IRF","lo":-0.53,"q1":-0.187,"md":0.0,"q3":0.223,"hi":0.404},
{"c":"24h","r":"biasFHV","t":"03h","s":"KWT","lo":-0.458,"q1":-0.277,"md":-0.036,"q3":0.211,"hi":0.494},
{"c":"24h","r":"biasFHV","t":"03h","s":"MC","lo":-0.5,"q1":-0.307,"md":-0.036,"q3":0.151,"hi":0.542},
{"c":"24h","r":"biasFHV","t":"03h","s":"DW","lo":-0.53,"q1":-0.271,"md":0.012,"q3":0.211,"hi":0.506},
{"c":"24h","r":"biasFHV","t":"04h","s":"Inst","lo":-1.13,"q1":-0.5,"md":0.07,"q3":0.633,"hi":0.976},
{"c":"24h","r":"biasFHV","t":"04h","s":"IRF","lo":-0.337,"q1":-0.21,"md":0.0,"q3":0.12,"hi":0.373},
{"c":"24h","r":"biasFHV","t":"04h","s":"KWT","lo":-0.53,"q1":-0.301,"md":-0.066,"q3":0.193,"hi":0.476},
{"c":"24h","r":"biasFHV","t":"04h","s":"MC","lo":-0.518,"q1":-0.229,"md":-0.078,"q3":0.313,"hi":0.434},
{"c":"24h","r":"biasFHV","t":"04h","s":"DW","lo":-0.548,"q1":-0.349,"md":-0.06,"q3":0.175,"hi":0.554},
{"c":"24h","r":"biasFHV","t":"06h","s":"Inst","lo":-1.13,"q1":-0.5,"md":0.06,"q3":0.633,"hi":0.976},
{"c":"24h","r":"biasFHV","t":"06h","s":"IRF","lo":-0.518,"q1":-0.392,"md":-0.301,"q3":0.175,"hi":0.506},
{"c":"24h","r":"biasFHV","t":"06h","s":"KWT","lo":-0.53,"q1":-0.277,"md":-0.096,"q3":0.12,"hi":0.313},
{"c":"24h","r":"biasFHV","t":"06h","s":"MC","lo":-0.512,"q1":-0.271,"md":0.114,"q3":0.295,"hi":0.434},
{"c":"24h","r":"biasFHV","t":"06h","s":"DW","lo":-0.512,"q1":-0.307,"md":-0.018,"q3":0.343,"hi":0.494}
]},
"spacing": 7,
"hconcat": [
{"spacing": 0, "hconcat": [
 {"spacing": 0, "vconcat": [
  {"width": 24, "height": 23, "view": {"stroke": null, "fill": null}, "data": {"values": [{"lab": ""}]}, "mark": {"type": "text"}, "encoding": {"text": {"field": "lab"}}},
  {"spacing": 7, "vconcat": [
   {"width": 24, "height": 134, "view": {"fill": "#D9D9D9", "stroke": "#333333"}, "layer": [
    {"data": {"name": "B"}, "transform": [{"filter": "datum.r==='KGE' && isValid(datum.md)"}], "mark": {"type": "point", "opacity": 0, "clip": true},
     "encoding": {"y": {"field": "md", "type": "quantitative", "title": null, "scale": {"domain": [0.6425, 0.821], "nice": false, "zero": false},
      "axis": {"values": [0.65, 0.7, 0.75, 0.8], "format": ".2f", "grid": false, "domain": false, "tickColor": "#333333", "tickSize": 4, "labelFontSize": 13, "labelColor": "#4D4D4D", "labelPadding": 2}}}},
    {"data": {"values": [{"lab": "KGE"}]}, "mark": {"type": "text", "angle": 270, "fontSize": 13, "color": "#1A1A1A"}, "encoding": {"text": {"field": "lab"}}}
   ]},
   {"width": 24, "height": 134, "view": {"fill": "#D9D9D9", "stroke": "#333333"}, "layer": [
    {"data": {"name": "B"}, "transform": [{"filter": "datum.r==='NSE' && isValid(datum.md)"}], "mark": {"type": "point", "opacity": 0, "clip": true},
     "encoding": {"y": {"field": "md", "type": "quantitative", "title": null, "scale": {"domain": [0.28, 0.78], "nice": false, "zero": false},
      "axis": {"values": [0.3, 0.4, 0.5, 0.6, 0.7], "format": ".2f", "grid": false, "domain": false, "tickColor": "#333333", "tickSize": 4, "labelFontSize": 13, "labelColor": "#4D4D4D", "labelPadding": 2}}}},
    {"data": {"values": [{"lab": "NSE"}]}, "mark": {"type": "text", "angle": 270, "fontSize": 13, "color": "#1A1A1A"}, "encoding": {"text": {"field": "lab"}}}
   ]},
   {"width": 24, "height": 134, "view": {"fill": "#D9D9D9", "stroke": "#333333"}, "layer": [
    {"data": {"name": "B"}, "transform": [{"filter": "datum.r==='NSElog' && isValid(datum.md)"}], "mark": {"type": "point", "opacity": 0, "clip": true},
     "encoding": {"y": {"field": "md", "type": "quantitative", "title": null, "scale": {"domain": [0.195, 0.567], "nice": false, "zero": false},
      "axis": {"values": [0.2, 0.3, 0.4, 0.5], "format": ".2f", "grid": false, "domain": false, "tickColor": "#333333", "tickSize": 4, "labelFontSize": 13, "labelColor": "#4D4D4D", "labelPadding": 2}}}},
    {"data": {"values": [{"lab": "NSElog"}]}, "mark": {"type": "text", "angle": 270, "fontSize": 13, "color": "#1A1A1A"}, "encoding": {"text": {"field": "lab"}}}
   ]},
   {"width": 24, "height": 134, "view": {"fill": "#D9D9D9", "stroke": "#333333"}, "layer": [
    {"data": {"name": "B"}, "transform": [{"filter": "datum.r==='biasFHV' && isValid(datum.md)"}], "mark": {"type": "point", "opacity": 0, "clip": true},
     "encoding": {"y": {"field": "md", "type": "quantitative", "title": null, "scale": {"domain": [-1.224, 1.2], "nice": false, "zero": false},
      "axis": {"values": [-1, 0, 1], "labelExpr": "(datum.value < 0 ? '-' : '') + format(abs(datum.value), '.1f') + '%'", "grid": false, "domain": false, "tickColor": "#333333", "tickSize": 4, "labelFontSize": 13, "labelColor": "#4D4D4D", "labelPadding": 2}}}},
    {"data": {"values": [{"lab": "biasFHV"}]}, "mark": {"type": "text", "angle": 270, "fontSize": 13, "color": "#1A1A1A"}, "encoding": {"text": {"field": "lab"}}}
   ]}
  ]}
 ]},
 {"spacing": 0, "vconcat": [
  {"width": 70, "height": 23, "view": {"fill": "#D9D9D9", "stroke": "#333333"}, "data": {"values": [{"lab": "Metric 01h"}]}, "mark": {"type": "text", "fontSize": 13, "color": "#1A1A1A"}, "encoding": {"text": {"field": "lab"}}},
  {"spacing": 7, "vconcat": [
   {"width": 70, "height": 134, "view": {"fill": "white", "stroke": "#333333"}, "data": {"name": "B"}, "transform": [{"filter": "datum.c==='01h' && datum.r==='KGE'"}],
    "encoding": {"x": {"field": "t", "type": "nominal", "title": null, "scale": {"domain": ["01h"], "paddingInner": 0.25, "paddingOuter": 0.225}, "axis": {"grid": true, "gridColor": "#EBEBEB", "gridWidth": 1.2, "bandPosition": 0.5, "labels": false, "ticks": false, "domain": false}},
     "xOffset": {"field": "s", "type": "nominal", "scale": {"domain": ["Inst", "IRF", "KWT", "MC", "DW"], "paddingInner": 0, "paddingOuter": 0}}},
    "layer": [
     {"transform": [{"filter": "isValid(datum.md)"}], "mark": {"type": "rule", "color": "#333333", "strokeWidth": 1, "clip": true}, "encoding": {"y": {"field": "lo", "type": "quantitative", "title": null, "scale": {"domain": [0.6425, 0.821], "nice": false, "zero": false}, "axis": {"values": [0.65, 0.675, 0.7, 0.725, 0.75, 0.775, 0.8], "labels": false, "ticks": false, "domain": false, "grid": true, "gridColor": "#EBEBEB", "gridWidth": {"condition": {"test": "abs(datum.value*20-round(datum.value*20))<0.01", "value": 1.2}, "value": 0.6}}}, "y2": {"field": "hi"}}},
     {"transform": [{"filter": "isValid(datum.md)"}], "mark": {"type": "bar", "stroke": "#333333", "strokeWidth": 1, "clip": true}, "encoding": {"y": {"field": "q1", "type": "quantitative", "title": null}, "y2": {"field": "q3"},
      "fill": {"field": "s", "type": "nominal", "scale": {"domain": ["Inst", "IRF", "KWT", "MC", "DW"], "range": ["#C8981E", "#D95F0E", "#4C8B43", "#4A8CD8", "#1E2D50"]}, "legend": {"title": "Routing Scheme", "orient": "none", "legendX": 233, "legendY": -46, "direction": "horizontal", "titleOrient": "left", "titleFontSize": 16, "titleFontWeight": "normal", "titleColor": "#000000", "labelFontSize": 13, "labelColor": "#000000", "symbolType": "M-0.7,-0.45H0.7V0.45H-0.7Z M-0.7,0H0.7 M0,-0.45V-1 M0,0.45V1", "symbolSize": 290, "symbolStrokeColor": "#333333", "symbolStrokeWidth": 1, "labelOffset": 12, "columnPadding": 9, "titlePadding": 9}}}},
     {"transform": [{"filter": "isValid(datum.md)"}], "mark": {"type": "tick", "color": "#333333", "thickness": 2.2, "size": 8.8, "clip": true}, "encoding": {"y": {"field": "md", "type": "quantitative", "title": null}}},
     {"transform": [{"filter": "isValid(datum.v)"}], "mark": {"type": "point", "shape": "circle", "filled": false, "color": "#B3B3B3", "size": 22, "strokeWidth": 1, "clip": true}, "encoding": {"y": {"field": "v", "type": "quantitative", "title": null}}}
    ]},
   {"width": 70, "height": 134, "view": {"fill": "white", "stroke": "#333333"}, "data": {"name": "B"}, "transform": [{"filter": "datum.c==='01h' && datum.r==='NSE'"}],
    "encoding": {"x": {"field": "t", "type": "nominal", "title": null, "scale": {"domain": ["01h"], "paddingInner": 0.25, "paddingOuter": 0.225}, "axis": {"grid": true, "gridColor": "#EBEBEB", "gridWidth": 1.2, "bandPosition": 0.5, "labels": false, "ticks": false, "domain": false}},
     "xOffset": {"field": "s", "type": "nominal", "scale": {"domain": ["Inst", "IRF", "KWT", "MC", "DW"], "paddingInner": 0, "paddingOuter": 0}}},
    "layer": [
     {"transform": [{"filter": "isValid(datum.md)"}], "mark": {"type": "rule", "color": "#333333", "strokeWidth": 1, "clip": true}, "encoding": {"y": {"field": "lo", "type": "quantitative", "title": null, "scale": {"domain": [0.28, 0.78], "nice": false, "zero": false}, "axis": {"values": [0.3, 0.35, 0.4, 0.45, 0.5, 0.55, 0.6, 0.65, 0.7, 0.75], "labels": false, "ticks": false, "domain": false, "grid": true, "gridColor": "#EBEBEB", "gridWidth": {"condition": {"test": "abs(datum.value*10-round(datum.value*10))<0.01", "value": 1.2}, "value": 0.6}}}, "y2": {"field": "hi"}}},
     {"transform": [{"filter": "isValid(datum.md)"}], "mark": {"type": "bar", "stroke": "#333333", "strokeWidth": 1, "clip": true}, "encoding": {"y": {"field": "q1", "type": "quantitative", "title": null}, "y2": {"field": "q3"},
      "fill": {"field": "s", "type": "nominal", "scale": {"domain": ["Inst", "IRF", "KWT", "MC", "DW"], "range": ["#C8981E", "#D95F0E", "#4C8B43", "#4A8CD8", "#1E2D50"]}, "legend": {"title": "Routing Scheme", "orient": "none", "legendX": 233, "legendY": -46, "direction": "horizontal", "titleOrient": "left", "titleFontSize": 16, "titleFontWeight": "normal", "titleColor": "#000000", "labelFontSize": 13, "labelColor": "#000000", "symbolType": "M-0.7,-0.45H0.7V0.45H-0.7Z M-0.7,0H0.7 M0,-0.45V-1 M0,0.45V1", "symbolSize": 290, "symbolStrokeColor": "#333333", "symbolStrokeWidth": 1, "labelOffset": 12, "columnPadding": 9, "titlePadding": 9}}}},
     {"transform": [{"filter": "isValid(datum.md)"}], "mark": {"type": "tick", "color": "#333333", "thickness": 2.2, "size": 8.8, "clip": true}, "encoding": {"y": {"field": "md", "type": "quantitative", "title": null}}},
     {"transform": [{"filter": "isValid(datum.v)"}], "mark": {"type": "point", "shape": "circle", "filled": false, "color": "#B3B3B3", "size": 22, "strokeWidth": 1, "clip": true}, "encoding": {"y": {"field": "v", "type": "quantitative", "title": null}}}
    ]},
   {"width": 70, "height": 134, "view": {"fill": "white", "stroke": "#333333"}, "data": {"name": "B"}, "transform": [{"filter": "datum.c==='01h' && datum.r==='NSElog'"}],
    "encoding": {"x": {"field": "t", "type": "nominal", "title": null, "scale": {"domain": ["01h"], "paddingInner": 0.25, "paddingOuter": 0.225}, "axis": {"grid": true, "gridColor": "#EBEBEB", "gridWidth": 1.2, "bandPosition": 0.5, "labels": false, "ticks": false, "domain": false}},
     "xOffset": {"field": "s", "type": "nominal", "scale": {"domain": ["Inst", "IRF", "KWT", "MC", "DW"], "paddingInner": 0, "paddingOuter": 0}}},
    "layer": [
     {"transform": [{"filter": "isValid(datum.md)"}], "mark": {"type": "rule", "color": "#333333", "strokeWidth": 1, "clip": true}, "encoding": {"y": {"field": "lo", "type": "quantitative", "title": null, "scale": {"domain": [0.195, 0.567], "nice": false, "zero": false}, "axis": {"values": [0.2, 0.25, 0.3, 0.35, 0.4, 0.45, 0.5, 0.55], "labels": false, "ticks": false, "domain": false, "grid": true, "gridColor": "#EBEBEB", "gridWidth": {"condition": {"test": "abs(datum.value*10-round(datum.value*10))<0.01", "value": 1.2}, "value": 0.6}}}, "y2": {"field": "hi"}}},
     {"transform": [{"filter": "isValid(datum.md)"}], "mark": {"type": "bar", "stroke": "#333333", "strokeWidth": 1, "clip": true}, "encoding": {"y": {"field": "q1", "type": "quantitative", "title": null}, "y2": {"field": "q3"},
      "fill": {"field": "s", "type": "nominal", "scale": {"domain": ["Inst", "IRF", "KWT", "MC", "DW"], "range": ["#C8981E", "#D95F0E", "#4C8B43", "#4A8CD8", "#1E2D50"]}, "legend": {"title": "Routing Scheme", "orient": "none", "legendX": 233, "legendY": -46, "direction": "horizontal", "titleOrient": "left", "titleFontSize": 16, "titleFontWeight": "normal", "titleColor": "#000000", "labelFontSize": 13, "labelColor": "#000000", "symbolType": "M-0.7,-0.45H0.7V0.45H-0.7Z M-0.7,0H0.7 M0,-0.45V-1 M0,0.45V1", "symbolSize": 290, "symbolStrokeColor": "#333333", "symbolStrokeWidth": 1, "labelOffset": 12, "columnPadding": 9, "titlePadding": 9}}}},
     {"transform": [{"filter": "isValid(datum.md)"}], "mark": {"type": "tick", "color": "#333333", "thickness": 2.2, "size": 8.8, "clip": true}, "encoding": {"y": {"field": "md", "type": "quantitative", "title": null}}},
     {"transform": [{"filter": "isValid(datum.v)"}], "mark": {"type": "point", "shape": "circle", "filled": false, "color": "#B3B3B3", "size": 22, "strokeWidth": 1, "clip": true}, "encoding": {"y": {"field": "v", "type": "quantitative", "title": null}}}
    ]},
   {"width": 70, "height": 134, "view": {"fill": "white", "stroke": "#333333"}, "data": {"name": "B"}, "transform": [{"filter": "datum.c==='01h' && datum.r==='biasFHV'"}],
    "encoding": {"x": {"field": "t", "type": "nominal", "title": null, "scale": {"domain": ["01h"], "paddingInner": 0.25, "paddingOuter": 0.225}, "axis": {"grid": true, "gridColor": "#EBEBEB", "gridWidth": 1.2, "bandPosition": 0.5, "labels": true, "ticks": true, "tickColor": "#333333", "tickSize": 4, "labelFontSize": 13, "labelColor": "#4D4D4D", "labelPadding": 1, "labelAngle": 0, "domain": false}},
     "xOffset": {"field": "s", "type": "nominal", "scale": {"domain": ["Inst", "IRF", "KWT", "MC", "DW"], "paddingInner": 0, "paddingOuter": 0}}},
    "layer": [
     {"transform": [{"filter": "isValid(datum.md)"}], "mark": {"type": "rule", "color": "#333333", "strokeWidth": 1, "clip": true}, "encoding": {"y": {"field": "lo", "type": "quantitative", "title": null, "scale": {"domain": [-1.224, 1.2], "nice": false, "zero": false}, "axis": {"values": [-1, -0.5, 0, 0.5, 1], "labels": false, "ticks": false, "domain": false, "grid": true, "gridColor": "#EBEBEB", "gridWidth": {"condition": {"test": "abs(datum.value-round(datum.value))<0.01", "value": 1.2}, "value": 0.6}}}, "y2": {"field": "hi"}}},
     {"transform": [{"filter": "isValid(datum.md)"}], "mark": {"type": "bar", "stroke": "#333333", "strokeWidth": 1, "clip": true}, "encoding": {"y": {"field": "q1", "type": "quantitative", "title": null}, "y2": {"field": "q3"},
      "fill": {"field": "s", "type": "nominal", "scale": {"domain": ["Inst", "IRF", "KWT", "MC", "DW"], "range": ["#C8981E", "#D95F0E", "#4C8B43", "#4A8CD8", "#1E2D50"]}, "legend": {"title": "Routing Scheme", "orient": "none", "legendX": 233, "legendY": -46, "direction": "horizontal", "titleOrient": "left", "titleFontSize": 16, "titleFontWeight": "normal", "titleColor": "#000000", "labelFontSize": 13, "labelColor": "#000000", "symbolType": "M-0.7,-0.45H0.7V0.45H-0.7Z M-0.7,0H0.7 M0,-0.45V-1 M0,0.45V1", "symbolSize": 290, "symbolStrokeColor": "#333333", "symbolStrokeWidth": 1, "labelOffset": 12, "columnPadding": 9, "titlePadding": 9}}}},
     {"transform": [{"filter": "isValid(datum.md)"}], "mark": {"type": "tick", "color": "#333333", "thickness": 2.2, "size": 8.8, "clip": true}, "encoding": {"y": {"field": "md", "type": "quantitative", "title": null}}},
     {"transform": [{"filter": "isValid(datum.v)"}], "mark": {"type": "point", "shape": "circle", "filled": false, "color": "#B3B3B3", "size": 22, "strokeWidth": 1, "clip": true}, "encoding": {"y": {"field": "v", "type": "quantitative", "title": null}}}
    ]}
  ]}
 ]}
]},
{"spacing": 0, "vconcat": [
  {"width": 131, "height": 23, "view": {"fill": "#D9D9D9", "stroke": "#333333"}, "data": {"values": [{"lab": "Metric 03h"}]}, "mark": {"type": "text", "fontSize": 13, "color": "#1A1A1A"}, "encoding": {"text": {"field": "lab"}}},
  {"spacing": 7, "vconcat": [
   {"width": 131, "height": 134, "view": {"fill": "white", "stroke": "#333333"}, "data": {"name": "B"}, "transform": [{"filter": "datum.c==='03h' && datum.r==='KGE'"}],
    "encoding": {"x": {"field": "t", "type": "nominal", "title": null, "scale": {"domain": ["01h", "03h"], "paddingInner": 0.25, "paddingOuter": 0.225}, "axis": {"grid": true, "gridColor": "#EBEBEB", "gridWidth": 1.2, "bandPosition": 0.5, "labels": false, "ticks": false, "domain": false}},
     "xOffset": {"field": "s", "type": "nominal", "scale": {"domain": ["Inst", "IRF", "KWT", "MC", "DW"], "paddingInner": 0, "paddingOuter": 0}}},
    "layer": [
     {"transform": [{"filter": "isValid(datum.md)"}], "mark": {"type": "rule", "color": "#333333", "strokeWidth": 1, "clip": true}, "encoding": {"y": {"field": "lo", "type": "quantitative", "title": null, "scale": {"domain": [0.6425, 0.821], "nice": false, "zero": false}, "axis": {"values": [0.65, 0.675, 0.7, 0.725, 0.75, 0.775, 0.8], "labels": false, "ticks": false, "domain": false, "grid": true, "gridColor": "#EBEBEB", "gridWidth": {"condition": {"test": "abs(datum.value*20-round(datum.value*20))<0.01", "value": 1.2}, "value": 0.6}}}, "y2": {"field": "hi"}}},
     {"transform": [{"filter": "isValid(datum.md)"}], "mark": {"type": "bar", "stroke": "#333333", "strokeWidth": 1, "clip": true}, "encoding": {"y": {"field": "q1", "type": "quantitative", "title": null}, "y2": {"field": "q3"},
      "fill": {"field": "s", "type": "nominal", "scale": {"domain": ["Inst", "IRF", "KWT", "MC", "DW"], "range": ["#C8981E", "#D95F0E", "#4C8B43", "#4A8CD8", "#1E2D50"]}, "legend": {"title": "Routing Scheme", "orient": "none", "legendX": 233, "legendY": -46, "direction": "horizontal", "titleOrient": "left", "titleFontSize": 16, "titleFontWeight": "normal", "titleColor": "#000000", "labelFontSize": 13, "labelColor": "#000000", "symbolType": "M-0.7,-0.45H0.7V0.45H-0.7Z M-0.7,0H0.7 M0,-0.45V-1 M0,0.45V1", "symbolSize": 290, "symbolStrokeColor": "#333333", "symbolStrokeWidth": 1, "labelOffset": 12, "columnPadding": 9, "titlePadding": 9}}}},
     {"transform": [{"filter": "isValid(datum.md)"}], "mark": {"type": "tick", "color": "#333333", "thickness": 2.2, "size": 8.8, "clip": true}, "encoding": {"y": {"field": "md", "type": "quantitative", "title": null}}},
     {"transform": [{"filter": "isValid(datum.v)"}], "mark": {"type": "point", "shape": "circle", "filled": false, "color": "#B3B3B3", "size": 22, "strokeWidth": 1, "clip": true}, "encoding": {"y": {"field": "v", "type": "quantitative", "title": null}}}
    ]},
   {"width": 131, "height": 134, "view": {"fill": "white", "stroke": "#333333"}, "data": {"name": "B"}, "transform": [{"filter": "datum.c==='03h' && datum.r==='NSE'"}],
    "encoding": {"x": {"field": "t", "type": "nominal", "title": null, "scale": {"domain": ["01h", "03h"], "paddingInner": 0.25, "paddingOuter": 0.225}, "axis": {"grid": true, "gridColor": "#EBEBEB", "gridWidth": 1.2, "bandPosition": 0.5, "labels": false, "ticks": false, "domain": false}},
     "xOffset": {"field": "s", "type": "nominal", "scale": {"domain": ["Inst", "IRF", "KWT", "MC", "DW"], "paddingInner": 0, "paddingOuter": 0}}},
    "layer": [
     {"transform": [{"filter": "isValid(datum.md)"}], "mark": {"type": "rule", "color": "#333333", "strokeWidth": 1, "clip": true}, "encoding": {"y": {"field": "lo", "type": "quantitative", "title": null, "scale": {"domain": [0.28, 0.78], "nice": false, "zero": false}, "axis": {"values": [0.3, 0.35, 0.4, 0.45, 0.5, 0.55, 0.6, 0.65, 0.7, 0.75], "labels": false, "ticks": false, "domain": false, "grid": true, "gridColor": "#EBEBEB", "gridWidth": {"condition": {"test": "abs(datum.value*10-round(datum.value*10))<0.01", "value": 1.2}, "value": 0.6}}}, "y2": {"field": "hi"}}},
     {"transform": [{"filter": "isValid(datum.md)"}], "mark": {"type": "bar", "stroke": "#333333", "strokeWidth": 1, "clip": true}, "encoding": {"y": {"field": "q1", "type": "quantitative", "title": null}, "y2": {"field": "q3"},
      "fill": {"field": "s", "type": "nominal", "scale": {"domain": ["Inst", "IRF", "KWT", "MC", "DW"], "range": ["#C8981E", "#D95F0E", "#4C8B43", "#4A8CD8", "#1E2D50"]}, "legend": {"title": "Routing Scheme", "orient": "none", "legendX": 233, "legendY": -46, "direction": "horizontal", "titleOrient": "left", "titleFontSize": 16, "titleFontWeight": "normal", "titleColor": "#000000", "labelFontSize": 13, "labelColor": "#000000", "symbolType": "M-0.7,-0.45H0.7V0.45H-0.7Z M-0.7,0H0.7 M0,-0.45V-1 M0,0.45V1", "symbolSize": 290, "symbolStrokeColor": "#333333", "symbolStrokeWidth": 1, "labelOffset": 12, "columnPadding": 9, "titlePadding": 9}}}},
     {"transform": [{"filter": "isValid(datum.md)"}], "mark": {"type": "tick", "color": "#333333", "thickness": 2.2, "size": 8.8, "clip": true}, "encoding": {"y": {"field": "md", "type": "quantitative", "title": null}}},
     {"transform": [{"filter": "isValid(datum.v)"}], "mark": {"type": "point", "shape": "circle", "filled": false, "color": "#B3B3B3", "size": 22, "strokeWidth": 1, "clip": true}, "encoding": {"y": {"field": "v", "type": "quantitative", "title": null}}}
    ]},
   {"width": 131, "height": 134, "view": {"fill": "white", "stroke": "#333333"}, "data": {"name": "B"}, "transform": [{"filter": "datum.c==='03h' && datum.r==='NSElog'"}],
    "encoding": {"x": {"field": "t", "type": "nominal", "title": null, "scale": {"domain": ["01h", "03h"], "paddingInner": 0.25, "paddingOuter": 0.225}, "axis": {"grid": true, "gridColor": "#EBEBEB", "gridWidth": 1.2, "bandPosition": 0.5, "labels": false, "ticks": false, "domain": false}},
     "xOffset": {"field": "s", "type": "nominal", "scale": {"domain": ["Inst", "IRF", "KWT", "MC", "DW"], "paddingInner": 0, "paddingOuter": 0}}},
    "layer": [
     {"transform": [{"filter": "isValid(datum.md)"}], "mark": {"type": "rule", "color": "#333333", "strokeWidth": 1, "clip": true}, "encoding": {"y": {"field": "lo", "type": "quantitative", "title": null, "scale": {"domain": [0.195, 0.567], "nice": false, "zero": false}, "axis": {"values": [0.2, 0.25, 0.3, 0.35, 0.4, 0.45, 0.5, 0.55], "labels": false, "ticks": false, "domain": false, "grid": true, "gridColor": "#EBEBEB", "gridWidth": {"condition": {"test": "abs(datum.value*10-round(datum.value*10))<0.01", "value": 1.2}, "value": 0.6}}}, "y2": {"field": "hi"}}},
     {"transform": [{"filter": "isValid(datum.md)"}], "mark": {"type": "bar", "stroke": "#333333", "strokeWidth": 1, "clip": true}, "encoding": {"y": {"field": "q1", "type": "quantitative", "title": null}, "y2": {"field": "q3"},
      "fill": {"field": "s", "type": "nominal", "scale": {"domain": ["Inst", "IRF", "KWT", "MC", "DW"], "range": ["#C8981E", "#D95F0E", "#4C8B43", "#4A8CD8", "#1E2D50"]}, "legend": {"title": "Routing Scheme", "orient": "none", "legendX": 233, "legendY": -46, "direction": "horizontal", "titleOrient": "left", "titleFontSize": 16, "titleFontWeight": "normal", "titleColor": "#000000", "labelFontSize": 13, "labelColor": "#000000", "symbolType": "M-0.7,-0.45H0.7V0.45H-0.7Z M-0.7,0H0.7 M0,-0.45V-1 M0,0.45V1", "symbolSize": 290, "symbolStrokeColor": "#333333", "symbolStrokeWidth": 1, "labelOffset": 12, "columnPadding": 9, "titlePadding": 9}}}},
     {"transform": [{"filter": "isValid(datum.md)"}], "mark": {"type": "tick", "color": "#333333", "thickness": 2.2, "size": 8.8, "clip": true}, "encoding": {"y": {"field": "md", "type": "quantitative", "title": null}}},
     {"transform": [{"filter": "isValid(datum.v)"}], "mark": {"type": "point", "shape": "circle", "filled": false, "color": "#B3B3B3", "size": 22, "strokeWidth": 1, "clip": true}, "encoding": {"y": {"field": "v", "type": "quantitative", "title": null}}}
    ]},
   {"width": 131, "height": 134, "view": {"fill": "white", "stroke": "#333333"}, "data": {"name": "B"}, "transform": [{"filter": "datum.c==='03h' && datum.r==='biasFHV'"}],
    "encoding": {"x": {"field": "t", "type": "nominal", "title": null, "scale": {"domain": ["01h", "03h"], "paddingInner": 0.25, "paddingOuter": 0.225}, "axis": {"grid": true, "gridColor": "#EBEBEB", "gridWidth": 1.2, "bandPosition": 0.5, "labels": true, "ticks": true, "tickColor": "#333333", "tickSize": 4, "labelFontSize": 13, "labelColor": "#4D4D4D", "labelPadding": 1, "labelAngle": 0, "domain": false}},
     "xOffset": {"field": "s", "type": "nominal", "scale": {"domain": ["Inst", "IRF", "KWT", "MC", "DW"], "paddingInner": 0, "paddingOuter": 0}}},
    "layer": [
     {"transform": [{"filter": "isValid(datum.md)"}], "mark": {"type": "rule", "color": "#333333", "strokeWidth": 1, "clip": true}, "encoding": {"y": {"field": "lo", "type": "quantitative", "title": null, "scale": {"domain": [-1.224, 1.2], "nice": false, "zero": false}, "axis": {"values": [-1, -0.5, 0, 0.5, 1], "labels": false, "ticks": false, "domain": false, "grid": true, "gridColor": "#EBEBEB", "gridWidth": {"condition": {"test": "abs(datum.value-round(datum.value))<0.01", "value": 1.2}, "value": 0.6}}}, "y2": {"field": "hi"}}},
     {"transform": [{"filter": "isValid(datum.md)"}], "mark": {"type": "bar", "stroke": "#333333", "strokeWidth": 1, "clip": true}, "encoding": {"y": {"field": "q1", "type": "quantitative", "title": null}, "y2": {"field": "q3"},
      "fill": {"field": "s", "type": "nominal", "scale": {"domain": ["Inst", "IRF", "KWT", "MC", "DW"], "range": ["#C8981E", "#D95F0E", "#4C8B43", "#4A8CD8", "#1E2D50"]}, "legend": {"title": "Routing Scheme", "orient": "none", "legendX": 233, "legendY": -46, "direction": "horizontal", "titleOrient": "left", "titleFontSize": 16, "titleFontWeight": "normal", "titleColor": "#000000", "labelFontSize": 13, "labelColor": "#000000", "symbolType": "M-0.7,-0.45H0.7V0.45H-0.7Z M-0.7,0H0.7 M0,-0.45V-1 M0,0.45V1", "symbolSize": 290, "symbolStrokeColor": "#333333", "symbolStrokeWidth": 1, "labelOffset": 12, "columnPadding": 9, "titlePadding": 9}}}},
     {"transform": [{"filter": "isValid(datum.md)"}], "mark": {"type": "tick", "color": "#333333", "thickness": 2.2, "size": 8.8, "clip": true}, "encoding": {"y": {"field": "md", "type": "quantitative", "title": null}}},
     {"transform": [{"filter": "isValid(datum.v)"}], "mark": {"type": "point", "shape": "circle", "filled": false, "color": "#B3B3B3", "size": 22, "strokeWidth": 1, "clip": true}, "encoding": {"y": {"field": "v", "type": "quantitative", "title": null}}}
    ]}
  ]}
]},
{"spacing": 0, "vconcat": [
  {"width": 310, "height": 23, "view": {"fill": "#D9D9D9", "stroke": "#333333"}, "data": {"values": [{"lab": "Metric 12h"}]}, "mark": {"type": "text", "fontSize": 13, "color": "#1A1A1A"}, "encoding": {"text": {"field": "lab"}}},
  {"spacing": 7, "vconcat": [
   {"width": 310, "height": 134, "view": {"fill": "white", "stroke": "#333333"}, "data": {"name": "B"}, "transform": [{"filter": "datum.c==='12h' && datum.r==='KGE'"}],
    "encoding": {"x": {"field": "t", "type": "nominal", "title": null, "scale": {"domain": ["01h", "02h", "03h", "04h", "06h"], "paddingInner": 0.25, "paddingOuter": 0.225}, "axis": {"grid": true, "gridColor": "#EBEBEB", "gridWidth": 1.2, "bandPosition": 0.5, "labels": false, "ticks": false, "domain": false}},
     "xOffset": {"field": "s", "type": "nominal", "scale": {"domain": ["Inst", "IRF", "KWT", "MC", "DW"], "paddingInner": 0, "paddingOuter": 0}}},
    "layer": [
     {"transform": [{"filter": "isValid(datum.md)"}], "mark": {"type": "rule", "color": "#333333", "strokeWidth": 1, "clip": true}, "encoding": {"y": {"field": "lo", "type": "quantitative", "title": null, "scale": {"domain": [0.6425, 0.821], "nice": false, "zero": false}, "axis": {"values": [0.65, 0.675, 0.7, 0.725, 0.75, 0.775, 0.8], "labels": false, "ticks": false, "domain": false, "grid": true, "gridColor": "#EBEBEB", "gridWidth": {"condition": {"test": "abs(datum.value*20-round(datum.value*20))<0.01", "value": 1.2}, "value": 0.6}}}, "y2": {"field": "hi"}}},
     {"transform": [{"filter": "isValid(datum.md)"}], "mark": {"type": "bar", "stroke": "#333333", "strokeWidth": 1, "clip": true}, "encoding": {"y": {"field": "q1", "type": "quantitative", "title": null}, "y2": {"field": "q3"},
      "fill": {"field": "s", "type": "nominal", "scale": {"domain": ["Inst", "IRF", "KWT", "MC", "DW"], "range": ["#C8981E", "#D95F0E", "#4C8B43", "#4A8CD8", "#1E2D50"]}, "legend": {"title": "Routing Scheme", "orient": "none", "legendX": 233, "legendY": -46, "direction": "horizontal", "titleOrient": "left", "titleFontSize": 16, "titleFontWeight": "normal", "titleColor": "#000000", "labelFontSize": 13, "labelColor": "#000000", "symbolType": "M-0.7,-0.45H0.7V0.45H-0.7Z M-0.7,0H0.7 M0,-0.45V-1 M0,0.45V1", "symbolSize": 290, "symbolStrokeColor": "#333333", "symbolStrokeWidth": 1, "labelOffset": 12, "columnPadding": 9, "titlePadding": 9}}}},
     {"transform": [{"filter": "isValid(datum.md)"}], "mark": {"type": "tick", "color": "#333333", "thickness": 2.2, "size": 8.8, "clip": true}, "encoding": {"y": {"field": "md", "type": "quantitative", "title": null}}},
     {"transform": [{"filter": "isValid(datum.v)"}], "mark": {"type": "point", "shape": "circle", "filled": false, "color": "#B3B3B3", "size": 22, "strokeWidth": 1, "clip": true}, "encoding": {"y": {"field": "v", "type": "quantitative", "title": null}}}
    ]},
   {"width": 310, "height": 134, "view": {"fill": "white", "stroke": "#333333"}, "data": {"name": "B"}, "transform": [{"filter": "datum.c==='12h' && datum.r==='NSE'"}],
    "encoding": {"x": {"field": "t", "type": "nominal", "title": null, "scale": {"domain": ["01h", "02h", "03h", "04h", "06h"], "paddingInner": 0.25, "paddingOuter": 0.225}, "axis": {"grid": true, "gridColor": "#EBEBEB", "gridWidth": 1.2, "bandPosition": 0.5, "labels": false, "ticks": false, "domain": false}},
     "xOffset": {"field": "s", "type": "nominal", "scale": {"domain": ["Inst", "IRF", "KWT", "MC", "DW"], "paddingInner": 0, "paddingOuter": 0}}},
    "layer": [
     {"transform": [{"filter": "isValid(datum.md)"}], "mark": {"type": "rule", "color": "#333333", "strokeWidth": 1, "clip": true}, "encoding": {"y": {"field": "lo", "type": "quantitative", "title": null, "scale": {"domain": [0.28, 0.78], "nice": false, "zero": false}, "axis": {"values": [0.3, 0.35, 0.4, 0.45, 0.5, 0.55, 0.6, 0.65, 0.7, 0.75], "labels": false, "ticks": false, "domain": false, "grid": true, "gridColor": "#EBEBEB", "gridWidth": {"condition": {"test": "abs(datum.value*10-round(datum.value*10))<0.01", "value": 1.2}, "value": 0.6}}}, "y2": {"field": "hi"}}},
     {"transform": [{"filter": "isValid(datum.md)"}], "mark": {"type": "bar", "stroke": "#333333", "strokeWidth": 1, "clip": true}, "encoding": {"y": {"field": "q1", "type": "quantitative", "title": null}, "y2": {"field": "q3"},
      "fill": {"field": "s", "type": "nominal", "scale": {"domain": ["Inst", "IRF", "KWT", "MC", "DW"], "range": ["#C8981E", "#D95F0E", "#4C8B43", "#4A8CD8", "#1E2D50"]}, "legend": {"title": "Routing Scheme", "orient": "none", "legendX": 233, "legendY": -46, "direction": "horizontal", "titleOrient": "left", "titleFontSize": 16, "titleFontWeight": "normal", "titleColor": "#000000", "labelFontSize": 13, "labelColor": "#000000", "symbolType": "M-0.7,-0.45H0.7V0.45H-0.7Z M-0.7,0H0.7 M0,-0.45V-1 M0,0.45V1", "symbolSize": 290, "symbolStrokeColor": "#333333", "symbolStrokeWidth": 1, "labelOffset": 12, "columnPadding": 9, "titlePadding": 9}}}},
     {"transform": [{"filter": "isValid(datum.md)"}], "mark": {"type": "tick", "color": "#333333", "thickness": 2.2, "size": 8.8, "clip": true}, "encoding": {"y": {"field": "md", "type": "quantitative", "title": null}}},
     {"transform": [{"filter": "isValid(datum.v)"}], "mark": {"type": "point", "shape": "circle", "filled": false, "color": "#B3B3B3", "size": 22, "strokeWidth": 1, "clip": true}, "encoding": {"y": {"field": "v", "type": "quantitative", "title": null}}}
    ]},
   {"width": 310, "height": 134, "view": {"fill": "white", "stroke": "#333333"}, "data": {"name": "B"}, "transform": [{"filter": "datum.c==='12h' && datum.r==='NSElog'"}],
    "encoding": {"x": {"field": "t", "type": "nominal", "title": null, "scale": {"domain": ["01h", "02h", "03h", "04h", "06h"], "paddingInner": 0.25, "paddingOuter": 0.225}, "axis": {"grid": true, "gridColor": "#EBEBEB", "gridWidth": 1.2, "bandPosition": 0.5, "labels": false, "ticks": false, "domain": false}},
     "xOffset": {"field": "s", "type": "nominal", "scale": {"domain": ["Inst", "IRF", "KWT", "MC", "DW"], "paddingInner": 0, "paddingOuter": 0}}},
    "layer": [
     {"transform": [{"filter": "isValid(datum.md)"}], "mark": {"type": "rule", "color": "#333333", "strokeWidth": 1, "clip": true}, "encoding": {"y": {"field": "lo", "type": "quantitative", "title": null, "scale": {"domain": [0.195, 0.567], "nice": false, "zero": false}, "axis": {"values": [0.2, 0.25, 0.3, 0.35, 0.4, 0.45, 0.5, 0.55], "labels": false, "ticks": false, "domain": false, "grid": true, "gridColor": "#EBEBEB", "gridWidth": {"condition": {"test": "abs(datum.value*10-round(datum.value*10))<0.01", "value": 1.2}, "value": 0.6}}}, "y2": {"field": "hi"}}},
     {"transform": [{"filter": "isValid(datum.md)"}], "mark": {"type": "bar", "stroke": "#333333", "strokeWidth": 1, "clip": true}, "encoding": {"y": {"field": "q1", "type": "quantitative", "title": null}, "y2": {"field": "q3"},
      "fill": {"field": "s", "type": "nominal", "scale": {"domain": ["Inst", "IRF", "KWT", "MC", "DW"], "range": ["#C8981E", "#D95F0E", "#4C8B43", "#4A8CD8", "#1E2D50"]}, "legend": {"title": "Routing Scheme", "orient": "none", "legendX": 233, "legendY": -46, "direction": "horizontal", "titleOrient": "left", "titleFontSize": 16, "titleFontWeight": "normal", "titleColor": "#000000", "labelFontSize": 13, "labelColor": "#000000", "symbolType": "M-0.7,-0.45H0.7V0.45H-0.7Z M-0.7,0H0.7 M0,-0.45V-1 M0,0.45V1", "symbolSize": 290, "symbolStrokeColor": "#333333", "symbolStrokeWidth": 1, "labelOffset": 12, "columnPadding": 9, "titlePadding": 9}}}},
     {"transform": [{"filter": "isValid(datum.md)"}], "mark": {"type": "tick", "color": "#333333", "thickness": 2.2, "size": 8.8, "clip": true}, "encoding": {"y": {"field": "md", "type": "quantitative", "title": null}}},
     {"transform": [{"filter": "isValid(datum.v)"}], "mark": {"type": "point", "shape": "circle", "filled": false, "color": "#B3B3B3", "size": 22, "strokeWidth": 1, "clip": true}, "encoding": {"y": {"field": "v", "type": "quantitative", "title": null}}}
    ]},
   {"width": 310, "height": 134, "view": {"fill": "white", "stroke": "#333333"}, "data": {"name": "B"}, "transform": [{"filter": "datum.c==='12h' && datum.r==='biasFHV'"}],
    "encoding": {"x": {"field": "t", "type": "nominal", "title": null, "scale": {"domain": ["01h", "02h", "03h", "04h", "06h"], "paddingInner": 0.25, "paddingOuter": 0.225}, "axis": {"grid": true, "gridColor": "#EBEBEB", "gridWidth": 1.2, "bandPosition": 0.5, "labels": true, "ticks": true, "tickColor": "#333333", "tickSize": 4, "labelFontSize": 13, "labelColor": "#4D4D4D", "labelPadding": 1, "labelAngle": 0, "domain": false}},
     "xOffset": {"field": "s", "type": "nominal", "scale": {"domain": ["Inst", "IRF", "KWT", "MC", "DW"], "paddingInner": 0, "paddingOuter": 0}}},
    "layer": [
     {"transform": [{"filter": "isValid(datum.md)"}], "mark": {"type": "rule", "color": "#333333", "strokeWidth": 1, "clip": true}, "encoding": {"y": {"field": "lo", "type": "quantitative", "title": null, "scale": {"domain": [-1.224, 1.2], "nice": false, "zero": false}, "axis": {"values": [-1, -0.5, 0, 0.5, 1], "labels": false, "ticks": false, "domain": false, "grid": true, "gridColor": "#EBEBEB", "gridWidth": {"condition": {"test": "abs(datum.value-round(datum.value))<0.01", "value": 1.2}, "value": 0.6}}}, "y2": {"field": "hi"}}},
     {"transform": [{"filter": "isValid(datum.md)"}], "mark": {"type": "bar", "stroke": "#333333", "strokeWidth": 1, "clip": true}, "encoding": {"y": {"field": "q1", "type": "quantitative", "title": null}, "y2": {"field": "q3"},
      "fill": {"field": "s", "type": "nominal", "scale": {"domain": ["Inst", "IRF", "KWT", "MC", "DW"], "range": ["#C8981E", "#D95F0E", "#4C8B43", "#4A8CD8", "#1E2D50"]}, "legend": {"title": "Routing Scheme", "orient": "none", "legendX": 233, "legendY": -46, "direction": "horizontal", "titleOrient": "left", "titleFontSize": 16, "titleFontWeight": "normal", "titleColor": "#000000", "labelFontSize": 13, "labelColor": "#000000", "symbolType": "M-0.7,-0.45H0.7V0.45H-0.7Z M-0.7,0H0.7 M0,-0.45V-1 M0,0.45V1", "symbolSize": 290, "symbolStrokeColor": "#333333", "symbolStrokeWidth": 1, "labelOffset": 12, "columnPadding": 9, "titlePadding": 9}}}},
     {"transform": [{"filter": "isValid(datum.md)"}], "mark": {"type": "tick", "color": "#333333", "thickness": 2.2, "size": 8.8, "clip": true}, "encoding": {"y": {"field": "md", "type": "quantitative", "title": null}}},
     {"transform": [{"filter": "isValid(datum.v)"}], "mark": {"type": "point", "shape": "circle", "filled": false, "color": "#B3B3B3", "size": 22, "strokeWidth": 1, "clip": true}, "encoding": {"y": {"field": "v", "type": "quantitative", "title": null}}}
    ]}
  ]}
]},
{"spacing": 0, "vconcat": [
  {"width": 304, "height": 23, "view": {"fill": "#D9D9D9", "stroke": "#333333"}, "data": {"values": [{"lab": "Metric 24h"}]}, "mark": {"type": "text", "fontSize": 13, "color": "#1A1A1A"}, "encoding": {"text": {"field": "lab"}}},
  {"spacing": 7, "vconcat": [
   {"width": 304, "height": 134, "view": {"fill": "white", "stroke": "#333333"}, "data": {"name": "B"}, "transform": [{"filter": "datum.c==='24h' && datum.r==='KGE'"}],
    "encoding": {"x": {"field": "t", "type": "nominal", "title": null, "scale": {"domain": ["01h", "02h", "03h", "04h", "06h"], "paddingInner": 0.25, "paddingOuter": 0.225}, "axis": {"grid": true, "gridColor": "#EBEBEB", "gridWidth": 1.2, "bandPosition": 0.5, "labels": false, "ticks": false, "domain": false}},
     "xOffset": {"field": "s", "type": "nominal", "scale": {"domain": ["Inst", "IRF", "KWT", "MC", "DW"], "paddingInner": 0, "paddingOuter": 0}}},
    "layer": [
     {"transform": [{"filter": "isValid(datum.md)"}], "mark": {"type": "rule", "color": "#333333", "strokeWidth": 1, "clip": true}, "encoding": {"y": {"field": "lo", "type": "quantitative", "title": null, "scale": {"domain": [0.6425, 0.821], "nice": false, "zero": false}, "axis": {"values": [0.65, 0.675, 0.7, 0.725, 0.75, 0.775, 0.8], "labels": false, "ticks": false, "domain": false, "grid": true, "gridColor": "#EBEBEB", "gridWidth": {"condition": {"test": "abs(datum.value*20-round(datum.value*20))<0.01", "value": 1.2}, "value": 0.6}}}, "y2": {"field": "hi"}}},
     {"transform": [{"filter": "isValid(datum.md)"}], "mark": {"type": "bar", "stroke": "#333333", "strokeWidth": 1, "clip": true}, "encoding": {"y": {"field": "q1", "type": "quantitative", "title": null}, "y2": {"field": "q3"},
      "fill": {"field": "s", "type": "nominal", "scale": {"domain": ["Inst", "IRF", "KWT", "MC", "DW"], "range": ["#C8981E", "#D95F0E", "#4C8B43", "#4A8CD8", "#1E2D50"]}, "legend": {"title": "Routing Scheme", "orient": "none", "legendX": 233, "legendY": -46, "direction": "horizontal", "titleOrient": "left", "titleFontSize": 16, "titleFontWeight": "normal", "titleColor": "#000000", "labelFontSize": 13, "labelColor": "#000000", "symbolType": "M-0.7,-0.45H0.7V0.45H-0.7Z M-0.7,0H0.7 M0,-0.45V-1 M0,0.45V1", "symbolSize": 290, "symbolStrokeColor": "#333333", "symbolStrokeWidth": 1, "labelOffset": 12, "columnPadding": 9, "titlePadding": 9}}}},
     {"transform": [{"filter": "isValid(datum.md)"}], "mark": {"type": "tick", "color": "#333333", "thickness": 2.2, "size": 8.8, "clip": true}, "encoding": {"y": {"field": "md", "type": "quantitative", "title": null}}},
     {"transform": [{"filter": "isValid(datum.v)"}], "mark": {"type": "point", "shape": "circle", "filled": false, "color": "#B3B3B3", "size": 22, "strokeWidth": 1, "clip": true}, "encoding": {"y": {"field": "v", "type": "quantitative", "title": null}}}
    ]},
   {"width": 304, "height": 134, "view": {"fill": "white", "stroke": "#333333"}, "data": {"name": "B"}, "transform": [{"filter": "datum.c==='24h' && datum.r==='NSE'"}],
    "encoding": {"x": {"field": "t", "type": "nominal", "title": null, "scale": {"domain": ["01h", "02h", "03h", "04h", "06h"], "paddingInner": 0.25, "paddingOuter": 0.225}, "axis": {"grid": true, "gridColor": "#EBEBEB", "gridWidth": 1.2, "bandPosition": 0.5, "labels": false, "ticks": false, "domain": false}},
     "xOffset": {"field": "s", "type": "nominal", "scale": {"domain": ["Inst", "IRF", "KWT", "MC", "DW"], "paddingInner": 0, "paddingOuter": 0}}},
    "layer": [
     {"transform": [{"filter": "isValid(datum.md)"}], "mark": {"type": "rule", "color": "#333333", "strokeWidth": 1, "clip": true}, "encoding": {"y": {"field": "lo", "type": "quantitative", "title": null, "scale": {"domain": [0.28, 0.78], "nice": false, "zero": false}, "axis": {"values": [0.3, 0.35, 0.4, 0.45, 0.5, 0.55, 0.6, 0.65, 0.7, 0.75], "labels": false, "ticks": false, "domain": false, "grid": true, "gridColor": "#EBEBEB", "gridWidth": {"condition": {"test": "abs(datum.value*10-round(datum.value*10))<0.01", "value": 1.2}, "value": 0.6}}}, "y2": {"field": "hi"}}},
     {"transform": [{"filter": "isValid(datum.md)"}], "mark": {"type": "bar", "stroke": "#333333", "strokeWidth": 1, "clip": true}, "encoding": {"y": {"field": "q1", "type": "quantitative", "title": null}, "y2": {"field": "q3"},
      "fill": {"field": "s", "type": "nominal", "scale": {"domain": ["Inst", "IRF", "KWT", "MC", "DW"], "range": ["#C8981E", "#D95F0E", "#4C8B43", "#4A8CD8", "#1E2D50"]}, "legend": {"title": "Routing Scheme", "orient": "none", "legendX": 233, "legendY": -46, "direction": "horizontal", "titleOrient": "left", "titleFontSize": 16, "titleFontWeight": "normal", "titleColor": "#000000", "labelFontSize": 13, "labelColor": "#000000", "symbolType": "M-0.7,-0.45H0.7V0.45H-0.7Z M-0.7,0H0.7 M0,-0.45V-1 M0,0.45V1", "symbolSize": 290, "symbolStrokeColor": "#333333", "symbolStrokeWidth": 1, "labelOffset": 12, "columnPadding": 9, "titlePadding": 9}}}},
     {"transform": [{"filter": "isValid(datum.md)"}], "mark": {"type": "tick", "color": "#333333", "thickness": 2.2, "size": 8.8, "clip": true}, "encoding": {"y": {"field": "md", "type": "quantitative", "title": null}}},
     {"transform": [{"filter": "isValid(datum.v)"}], "mark": {"type": "point", "shape": "circle", "filled": false, "color": "#B3B3B3", "size": 22, "strokeWidth": 1, "clip": true}, "encoding": {"y": {"field": "v", "type": "quantitative", "title": null}}}
    ]},
   {"width": 304, "height": 134, "view": {"fill": "white", "stroke": "#333333"}, "data": {"name": "B"}, "transform": [{"filter": "datum.c==='24h' && datum.r==='NSElog'"}],
    "encoding": {"x": {"field": "t", "type": "nominal", "title": null, "scale": {"domain": ["01h", "02h", "03h", "04h", "06h"], "paddingInner": 0.25, "paddingOuter": 0.225}, "axis": {"grid": true, "gridColor": "#EBEBEB", "gridWidth": 1.2, "bandPosition": 0.5, "labels": false, "ticks": false, "domain": false}},
     "xOffset": {"field": "s", "type": "nominal", "scale": {"domain": ["Inst", "IRF", "KWT", "MC", "DW"], "paddingInner": 0, "paddingOuter": 0}}},
    "layer": [
     {"transform": [{"filter": "isValid(datum.md)"}], "mark": {"type": "rule", "color": "#333333", "strokeWidth": 1, "clip": true}, "encoding": {"y": {"field": "lo", "type": "quantitative", "title": null, "scale": {"domain": [0.195, 0.567], "nice": false, "zero": false}, "axis": {"values": [0.2, 0.25, 0.3, 0.35, 0.4, 0.45, 0.5, 0.55], "labels": false, "ticks": false, "domain": false, "grid": true, "gridColor": "#EBEBEB", "gridWidth": {"condition": {"test": "abs(datum.value*10-round(datum.value*10))<0.01", "value": 1.2}, "value": 0.6}}}, "y2": {"field": "hi"}}},
     {"transform": [{"filter": "isValid(datum.md)"}], "mark": {"type": "bar", "stroke": "#333333", "strokeWidth": 1, "clip": true}, "encoding": {"y": {"field": "q1", "type": "quantitative", "title": null}, "y2": {"field": "q3"},
      "fill": {"field": "s", "type": "nominal", "scale": {"domain": ["Inst", "IRF", "KWT", "MC", "DW"], "range": ["#C8981E", "#D95F0E", "#4C8B43", "#4A8CD8", "#1E2D50"]}, "legend": {"title": "Routing Scheme", "orient": "none", "legendX": 233, "legendY": -46, "direction": "horizontal", "titleOrient": "left", "titleFontSize": 16, "titleFontWeight": "normal", "titleColor": "#000000", "labelFontSize": 13, "labelColor": "#000000", "symbolType": "M-0.7,-0.45H0.7V0.45H-0.7Z M-0.7,0H0.7 M0,-0.45V-1 M0,0.45V1", "symbolSize": 290, "symbolStrokeColor": "#333333", "symbolStrokeWidth": 1, "labelOffset": 12, "columnPadding": 9, "titlePadding": 9}}}},
     {"transform": [{"filter": "isValid(datum.md)"}], "mark": {"type": "tick", "color": "#333333", "thickness": 2.2, "size": 8.8, "clip": true}, "encoding": {"y": {"field": "md", "type": "quantitative", "title": null}}},
     {"transform": [{"filter": "isValid(datum.v)"}], "mark": {"type": "point", "shape": "circle", "filled": false, "color": "#B3B3B3", "size": 22, "strokeWidth": 1, "clip": true}, "encoding": {"y": {"field": "v", "type": "quantitative", "title": null}}}
    ]},
   {"width": 304, "height": 134, "view": {"fill": "white", "stroke": "#333333"}, "data": {"name": "B"}, "transform": [{"filter": "datum.c==='24h' && datum.r==='biasFHV'"}],
    "encoding": {"x": {"field": "t", "type": "nominal", "title": null, "scale": {"domain": ["01h", "02h", "03h", "04h", "06h"], "paddingInner": 0.25, "paddingOuter": 0.225}, "axis": {"grid": true, "gridColor": "#EBEBEB", "gridWidth": 1.2, "bandPosition": 0.5, "labels": true, "ticks": true, "tickColor": "#333333", "tickSize": 4, "labelFontSize": 13, "labelColor": "#4D4D4D", "labelPadding": 1, "labelAngle": 0, "domain": false}},
     "xOffset": {"field": "s", "type": "nominal", "scale": {"domain": ["Inst", "IRF", "KWT", "MC", "DW"], "paddingInner": 0, "paddingOuter": 0}}},
    "layer": [
     {"transform": [{"filter": "isValid(datum.md)"}], "mark": {"type": "rule", "color": "#333333", "strokeWidth": 1, "clip": true}, "encoding": {"y": {"field": "lo", "type": "quantitative", "title": null, "scale": {"domain": [-1.224, 1.2], "nice": false, "zero": false}, "axis": {"values": [-1, -0.5, 0, 0.5, 1], "labels": false, "ticks": false, "domain": false, "grid": true, "gridColor": "#EBEBEB", "gridWidth": {"condition": {"test": "abs(datum.value-round(datum.value))<0.01", "value": 1.2}, "value": 0.6}}}, "y2": {"field": "hi"}}},
     {"transform": [{"filter": "isValid(datum.md)"}], "mark": {"type": "bar", "stroke": "#333333", "strokeWidth": 1, "clip": true}, "encoding": {"y": {"field": "q1", "type": "quantitative", "title": null}, "y2": {"field": "q3"},
      "fill": {"field": "s", "type": "nominal", "scale": {"domain": ["Inst", "IRF", "KWT", "MC", "DW"], "range": ["#C8981E", "#D95F0E", "#4C8B43", "#4A8CD8", "#1E2D50"]}, "legend": {"title": "Routing Scheme", "orient": "none", "legendX": 233, "legendY": -46, "direction": "horizontal", "titleOrient": "left", "titleFontSize": 16, "titleFontWeight": "normal", "titleColor": "#000000", "labelFontSize": 13, "labelColor": "#000000", "symbolType": "M-0.7,-0.45H0.7V0.45H-0.7Z M-0.7,0H0.7 M0,-0.45V-1 M0,0.45V1", "symbolSize": 290, "symbolStrokeColor": "#333333", "symbolStrokeWidth": 1, "labelOffset": 12, "columnPadding": 9, "titlePadding": 9}}}},
     {"transform": [{"filter": "isValid(datum.md)"}], "mark": {"type": "tick", "color": "#333333", "thickness": 2.2, "size": 8.8, "clip": true}, "encoding": {"y": {"field": "md", "type": "quantitative", "title": null}}},
     {"transform": [{"filter": "isValid(datum.v)"}], "mark": {"type": "point", "shape": "circle", "filled": false, "color": "#B3B3B3", "size": 22, "strokeWidth": 1, "clip": true}, "encoding": {"y": {"field": "v", "type": "quantitative", "title": null}}}
    ]}
  ]}
]}
]
}
